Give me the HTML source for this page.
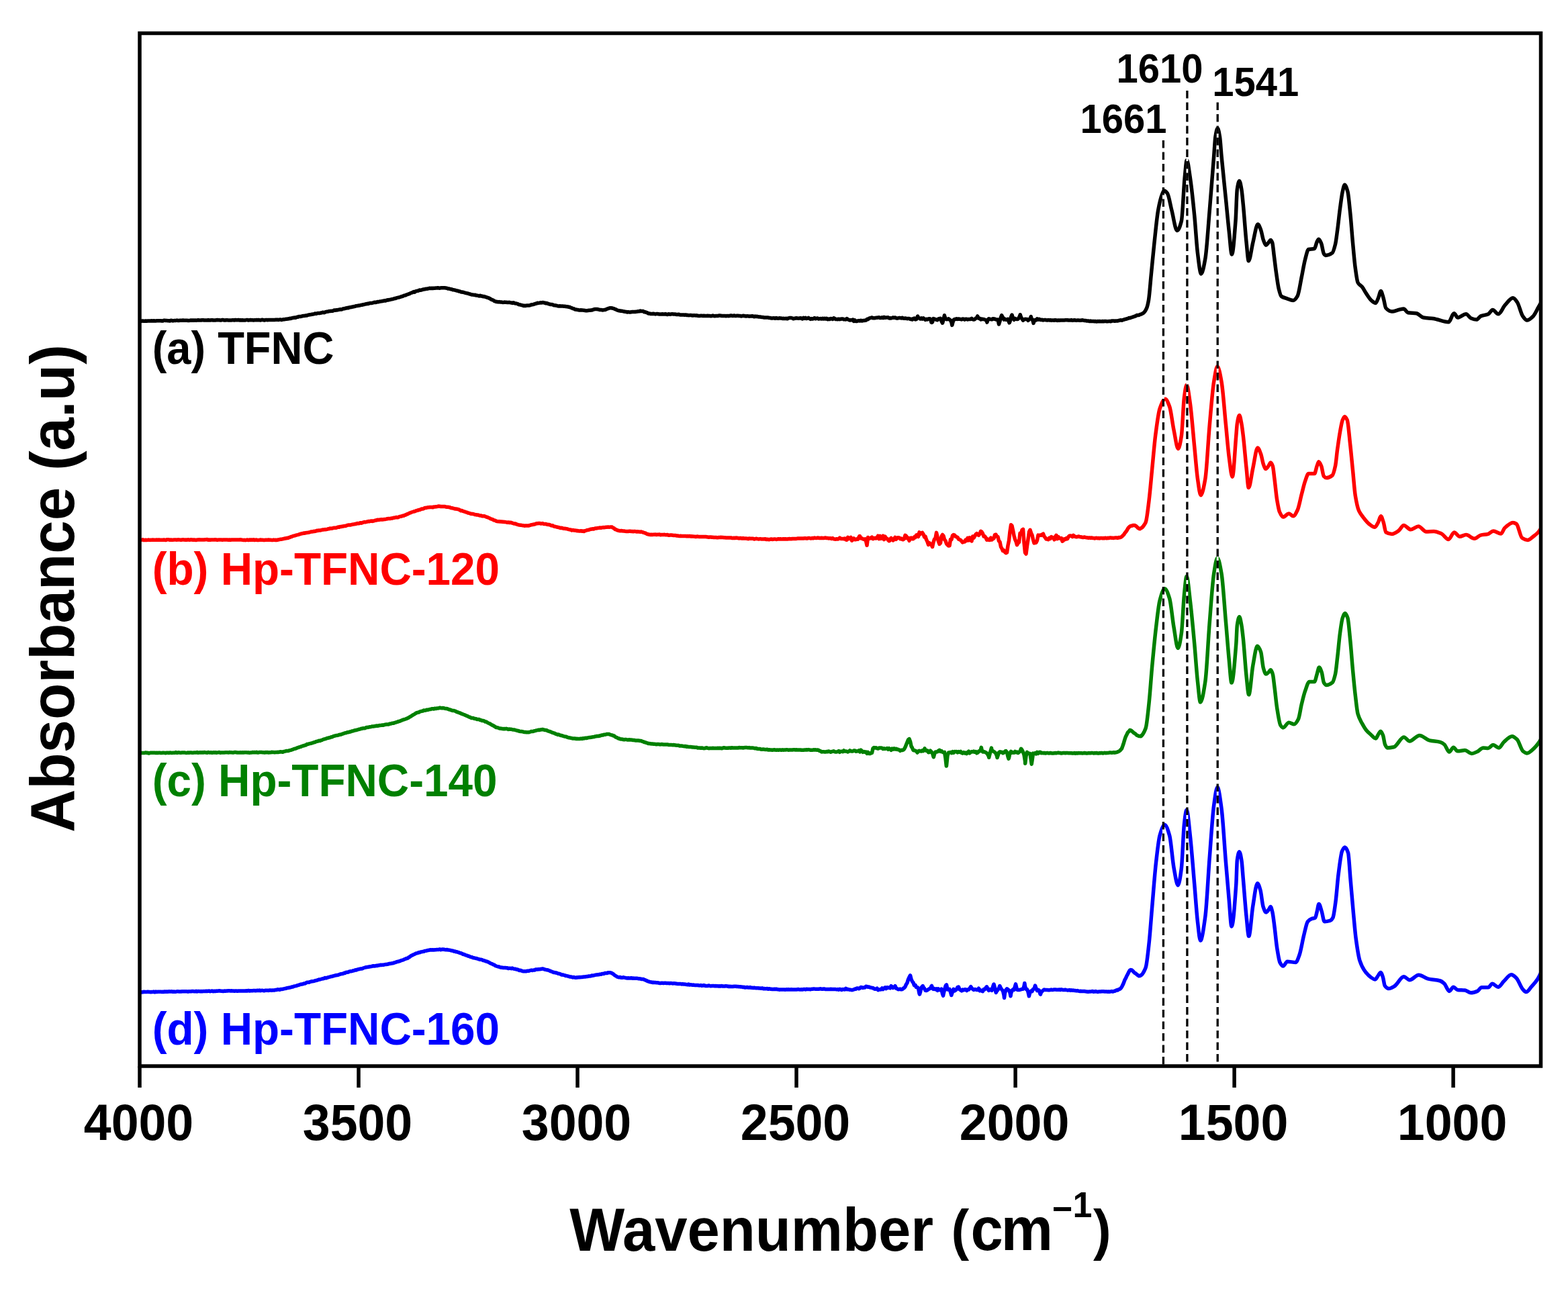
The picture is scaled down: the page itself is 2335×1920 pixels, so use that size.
<!DOCTYPE html>
<html><head><meta charset="utf-8"><title>FTIR spectra</title>
<style>html,body{margin:0;padding:0;background:#fff;}svg{display:block;}</style>
</head><body>
<svg width="2335" height="1920" viewBox="0 0 2335 1920">
<rect width="2335" height="1920" fill="#ffffff"/>
<defs><clipPath id="pc"><rect x="208" y="49.5" width="2086.5" height="1538.5"/></clipPath></defs>
<g clip-path="url(#pc)" fill="none" stroke-width="5.5" stroke-linejoin="round" stroke-linecap="round">
<path d="M208.0 478.3L209.5 478.3 211.0 478.2 212.5 477.9 214.0 478.3 215.5 478.2 217.0 478.0 218.5 478.2 220.0 478.1 221.5 478.1 223.0 478.0 224.5 478.1 226.0 477.8 227.5 477.9 229.0 477.8 230.5 478.0 232.0 477.9 233.5 477.8 235.0 477.7 236.5 477.8 238.0 477.8 239.5 477.7 241.0 478.0 242.5 477.9 244.0 477.2 245.5 477.3 247.0 477.6 248.5 477.6 250.0 477.7 251.5 477.7 253.0 478.0 254.5 477.3 256.0 477.5 257.5 477.9 259.0 477.6 260.5 477.6 262.0 477.4 263.5 477.1 265.0 477.5 266.5 477.4 268.0 477.2 269.5 477.2 271.0 477.3 272.5 477.1 274.0 477.3 275.5 477.3 277.0 477.3 278.5 477.2 280.0 477.4 281.5 477.4 283.0 477.3 284.5 477.0 286.0 477.3 287.5 477.0 289.0 477.3 290.5 476.9 292.0 477.3 293.5 477.1 295.0 476.8 296.5 477.0 298.0 477.0 299.5 477.1 301.0 476.8 302.5 476.7 304.0 477.0 305.5 476.9 307.0 477.0 308.5 477.1 310.0 476.6 311.5 477.0 313.0 477.1 314.5 476.8 316.0 476.7 317.5 477.0 319.0 476.9 320.5 477.1 322.0 476.8 323.5 476.6 325.0 476.8 326.5 476.8 328.0 477.0 329.5 476.9 331.0 476.5 332.5 476.6 334.0 477.0 335.5 477.0 337.0 476.7 338.5 476.8 340.0 476.9 341.5 476.9 343.0 477.0 344.5 476.9 346.0 476.8 347.5 476.8 349.0 477.0 350.5 476.4 352.0 476.8 353.5 476.8 355.0 476.5 356.5 476.9 358.0 476.7 359.5 477.0 361.0 476.8 362.5 476.9 364.0 477.0 365.5 476.9 367.0 476.6 368.5 476.5 370.0 477.1 371.5 476.7 373.0 476.6 374.5 476.8 376.0 476.7 377.5 476.9 379.0 476.7 380.5 476.7 382.0 476.6 383.5 476.8 385.0 476.5 386.5 476.8 388.0 477.0 389.5 476.4 391.0 476.2 392.5 476.8 394.0 477.1 395.5 476.4 397.0 476.4 398.5 476.7 400.0 476.4 401.5 476.5 403.0 476.5 404.5 476.6 406.0 476.4 407.5 476.5 409.0 476.4 410.5 476.3 412.0 476.3 413.5 476.2 415.0 476.4 416.5 476.1 418.0 476.1 419.5 476.5 421.0 476.0 422.5 475.8 424.0 475.7 425.5 475.3 427.0 475.2 428.5 475.1 430.0 474.8 431.5 474.3 433.0 474.4 434.5 473.9 436.0 473.5 437.5 473.3 439.0 473.1 440.5 473.2 442.0 472.3 443.5 472.3 445.0 471.5 446.5 471.6 448.0 471.5 449.5 471.0 451.0 470.6 452.5 470.5 454.0 470.3 455.5 470.0 457.0 469.9 458.5 469.3 460.0 468.9 461.5 468.7 463.0 468.5 464.5 468.2 466.0 467.9 467.5 467.7 469.0 467.1 470.5 467.3 472.0 466.8 473.5 466.4 475.0 466.5 476.5 466.4 478.0 466.0 479.5 465.7 481.0 465.2 482.5 465.7 484.0 465.1 485.5 464.4 487.0 464.2 488.5 464.1 490.0 463.5 491.5 463.6 493.0 463.2 494.5 463.3 496.0 463.0 497.5 462.0 499.0 462.3 500.5 461.7 502.0 461.9 503.5 461.5 505.0 461.3 506.5 460.7 508.0 460.9 509.5 460.7 511.0 459.8 512.5 459.8 514.0 459.3 515.5 459.1 517.0 458.5 518.5 458.8 520.0 458.0 521.5 457.8 523.0 457.6 524.5 457.1 526.0 456.9 527.5 456.5 529.0 456.2 530.5 455.7 532.0 455.6 533.5 455.3 535.0 455.0 536.5 454.7 538.0 454.3 539.5 454.2 541.0 453.7 542.5 453.5 544.0 453.0 545.5 452.8 547.0 452.3 548.5 452.4 550.0 451.8 551.5 451.6 553.0 451.5 554.5 451.2 556.0 450.8 557.5 450.2 559.0 450.5 560.5 450.2 562.0 449.6 563.5 449.8 565.0 449.2 566.5 448.9 568.0 448.8 569.5 448.5 571.0 448.3 572.5 447.7 574.0 448.1 575.5 447.3 577.0 446.8 578.5 446.9 580.0 446.4 581.5 446.2 583.0 445.8 584.5 445.5 586.0 445.1 587.5 444.6 589.0 444.5 590.5 443.8 592.0 443.4 593.5 443.1 595.0 442.8 596.5 442.2 598.0 441.6 599.5 441.5 601.0 440.5 602.5 440.1 604.0 439.8 605.5 438.9 607.0 438.6 608.5 437.9 610.0 437.5 611.5 436.5 613.0 436.0 614.5 435.6 616.0 434.5 617.5 435.1 619.0 433.8 620.5 433.4 622.0 433.3 623.5 432.8 625.0 432.0 626.5 432.2 628.0 431.9 629.5 431.3 631.0 431.0 632.5 430.8 634.0 430.3 635.5 430.3 637.0 430.0 638.5 429.6 640.0 429.3 641.5 429.4 643.0 429.2 644.5 429.5 646.0 429.2 647.5 429.3 649.0 429.1 650.5 429.1 652.0 428.8 653.5 429.0 655.0 429.2 656.5 428.8 658.0 428.7 659.5 428.8 661.0 428.7 662.5 428.8 664.0 429.1 665.5 429.3 667.0 429.9 668.5 429.9 670.0 430.3 671.5 430.8 673.0 431.0 674.5 431.7 676.0 431.8 677.5 432.2 679.0 432.7 680.5 433.1 682.0 433.3 683.5 433.9 685.0 434.0 686.5 434.9 688.0 435.0 689.5 435.3 691.0 435.6 692.5 436.1 694.0 436.5 695.5 436.8 697.0 437.2 698.5 437.7 700.0 438.0 701.5 438.6 703.0 439.0 704.5 439.1 706.0 439.4 707.5 439.3 709.0 440.0 710.5 440.1 712.0 440.4 713.5 440.9 715.0 440.3 716.5 441.1 718.0 441.1 719.5 441.7 721.0 441.6 722.5 442.1 724.0 442.6 725.5 443.2 727.0 443.7 728.5 444.2 730.0 445.0 731.5 446.0 733.0 446.7 734.5 447.1 736.0 448.3 737.5 448.8 739.0 449.4 740.5 449.5 742.0 449.9 743.5 449.6 745.0 450.0 746.5 449.9 748.0 450.2 749.5 450.4 751.0 450.1 752.5 450.3 754.0 450.3 755.5 450.6 757.0 450.6 758.5 450.3 760.0 450.7 761.5 450.9 763.0 451.4 764.5 450.8 766.0 451.4 767.5 452.1 769.0 452.0 770.5 452.5 772.0 453.3 773.5 453.8 775.0 453.9 776.5 454.6 778.0 454.8 779.5 455.4 781.0 455.2 782.5 455.5 784.0 455.1 785.5 455.1 787.0 454.9 788.5 454.9 790.0 454.5 791.5 453.8 793.0 453.7 794.5 453.4 796.0 452.8 797.5 452.3 799.0 452.0 800.5 451.3 802.0 451.4 803.5 451.1 805.0 450.7 806.5 451.0 808.0 450.5 809.5 450.8 811.0 451.0 812.5 451.8 814.0 451.4 815.5 452.2 817.0 452.7 818.5 453.0 820.0 453.6 821.5 453.6 823.0 453.8 824.5 454.8 826.0 454.7 827.5 455.1 829.0 455.2 830.5 455.8 832.0 455.9 833.5 455.7 835.0 456.1 836.5 456.0 838.0 456.1 839.5 456.2 841.0 456.3 842.5 456.6 844.0 456.7 845.5 456.8 847.0 457.3 848.5 457.5 850.0 458.2 851.5 458.8 853.0 459.6 854.5 459.8 856.0 460.9 857.5 461.0 859.0 461.3 860.5 461.5 862.0 461.9 863.5 461.9 865.0 461.8 866.5 461.9 868.0 462.1 869.5 462.2 871.0 462.6 872.5 462.7 874.0 462.7 875.5 462.6 877.0 462.3 878.5 462.2 880.0 462.0 881.5 461.9 883.0 461.3 884.5 460.8 886.0 460.6 887.5 460.5 889.0 460.5 890.5 460.8 892.0 461.1 893.5 461.6 895.0 461.4 896.5 461.8 898.0 462.0 899.5 461.5 901.0 461.5 902.5 460.9 904.0 460.1 905.5 459.6 907.0 459.1 908.5 458.7 910.0 458.7 911.5 458.9 913.0 459.4 914.5 459.8 916.0 460.6 917.5 461.0 919.0 462.0 920.5 462.5 922.0 462.7 923.5 463.0 925.0 463.3 926.5 463.3 928.0 463.7 929.5 464.0 931.0 464.3 932.5 464.4 934.0 465.0 935.5 464.6 937.0 464.9 938.5 465.0 940.0 464.8 941.5 464.6 943.0 464.4 944.5 464.6 946.0 464.6 947.5 464.2 949.0 464.0 950.5 463.7 952.0 463.8 953.5 463.1 955.0 463.5 956.5 463.6 958.0 463.6 959.5 464.8 961.0 464.7 962.5 465.4 964.0 465.9 965.5 466.9 967.0 466.9 968.5 467.4 970.0 467.5 971.5 467.6 973.0 467.3 974.5 467.5 976.0 468.0 977.5 467.5 979.0 467.6 980.5 467.8 982.0 468.0 983.5 467.9 985.0 468.0 986.5 467.7 988.0 468.1 989.5 468.0 991.0 467.6 992.5 468.2 994.0 468.4 995.5 467.8 997.0 468.0 998.5 468.3 1000.0 467.7 1001.5 467.7 1003.0 467.9 1004.5 468.1 1006.0 468.1 1007.5 468.5 1009.0 468.5 1010.5 468.2 1012.0 468.7 1013.5 469.0 1015.0 469.0 1016.5 469.0 1018.0 468.9 1019.5 469.2 1021.0 468.9 1022.5 469.4 1024.0 469.3 1025.5 469.7 1027.0 469.6 1028.5 469.4 1030.0 469.7 1031.5 470.0 1033.0 469.7 1034.5 469.8 1036.0 469.9 1037.5 469.8 1039.0 470.3 1040.5 470.5 1042.0 470.4 1043.5 470.3 1045.0 470.3 1046.5 470.4 1048.0 470.2 1049.5 470.5 1051.0 470.6 1052.5 470.6 1054.0 470.3 1055.5 470.4 1057.0 470.4 1058.5 470.8 1060.0 470.5 1061.5 470.1 1063.0 470.5 1064.5 470.8 1066.0 470.6 1067.5 470.6 1069.0 470.5 1070.5 470.1 1072.0 470.1 1073.5 470.2 1075.0 470.5 1076.5 470.6 1078.0 470.6 1079.5 470.4 1081.0 470.7 1082.5 470.5 1084.0 470.4 1085.5 470.7 1087.0 470.3 1088.5 470.0 1090.0 470.3 1091.5 470.6 1093.0 469.9 1094.5 470.5 1096.0 470.5 1097.5 470.3 1099.0 470.3 1100.5 470.5 1102.0 470.5 1103.5 470.9 1105.0 470.7 1106.5 470.3 1108.0 470.5 1109.5 470.8 1111.0 471.1 1112.5 470.8 1114.0 470.8 1115.5 471.2 1117.0 470.9 1118.5 470.9 1120.0 470.7 1121.5 471.0 1123.0 471.7 1124.5 471.1 1126.0 471.5 1127.5 471.3 1129.0 471.8 1130.5 472.1 1132.0 472.0 1133.5 472.3 1135.0 472.5 1136.5 472.6 1138.0 473.0 1139.5 473.0 1141.0 472.9 1142.5 473.0 1144.0 473.1 1145.5 473.5 1147.0 473.4 1148.5 474.1 1150.0 474.1 1151.5 473.8 1153.0 473.8 1154.5 474.3 1156.0 473.6 1157.5 474.0 1159.0 474.3 1160.5 473.7 1162.0 473.9 1163.5 474.0 1165.0 474.5 1166.5 474.3 1168.0 474.4 1169.5 474.5 1171.0 474.3 1172.5 474.8 1174.0 473.9 1175.5 473.6 1177.0 473.4 1178.5 473.5 1180.0 474.0 1181.5 474.8 1183.0 474.4 1184.5 474.0 1186.0 473.8 1187.5 474.1 1189.0 474.2 1190.5 474.1 1192.0 473.7 1193.5 474.2 1195.0 474.9 1196.5 473.3 1198.0 474.3 1199.5 473.4 1201.0 474.5 1202.5 474.1 1204.0 473.4 1205.5 474.5 1207.0 475.4 1208.5 474.6 1210.0 475.1 1211.5 474.5 1213.0 473.5 1214.5 474.8 1216.0 474.4 1217.5 473.9 1219.0 475.0 1220.5 474.8 1222.0 474.4 1223.5 475.1 1225.0 474.3 1226.5 475.1 1228.0 474.3 1229.5 475.1 1231.0 474.3 1232.5 475.6 1234.0 475.0 1235.5 475.6 1237.0 474.5 1238.5 474.7 1240.0 475.4 1241.5 473.7 1243.0 474.5 1244.5 475.6 1246.0 475.4 1247.5 475.7 1249.0 475.2 1250.5 475.7 1252.0 475.2 1253.5 475.0 1255.0 474.9 1256.5 475.7 1258.0 475.8 1259.5 475.9 1261.0 474.6 1262.5 475.6 1264.0 476.4 1265.5 477.0 1267.0 476.7 1268.5 476.7 1270.0 476.1 1271.5 478.4 1273.0 477.0 1274.5 478.5 1276.0 478.5 1277.5 477.9 1279.0 477.6 1280.5 478.0 1282.0 477.3 1283.5 478.0 1285.0 477.6 1286.5 477.5 1288.0 477.3 1289.5 477.2 1291.0 475.6 1292.5 475.7 1294.0 474.3 1295.5 473.7 1297.0 473.4 1298.5 472.9 1300.0 473.7 1301.5 473.7 1303.0 473.8 1304.5 473.2 1306.0 473.3 1307.5 472.9 1309.0 472.7 1310.5 473.5 1312.0 473.4 1313.5 472.7 1315.0 473.6 1316.5 472.4 1318.0 473.2 1319.5 473.0 1321.0 473.1 1322.5 472.8 1324.0 473.9 1325.5 473.7 1327.0 474.0 1328.5 473.5 1330.0 472.9 1331.5 473.3 1333.0 473.0 1334.5 473.8 1336.0 474.2 1337.5 473.8 1339.0 473.4 1340.5 473.6 1342.0 473.9 1343.5 473.2 1345.0 474.1 1346.5 474.3 1348.0 474.1 1349.5 474.3 1351.0 474.7 1352.5 474.4 1354.0 474.5 1355.5 475.4 1357.0 475.2 1358.5 476.0 1360.0 474.5 1361.5 474.0 1363.0 475.9 1364.5 475.5 1366.0 472.3 1366.6 471.0 1367.5 473.2 1369.0 474.0 1370.5 475.0 1372.0 473.8 1373.5 475.1 1375.0 473.8 1376.5 475.2 1378.0 476.4 1379.5 475.2 1381.0 475.9 1382.5 474.9 1384.0 474.7 1385.5 475.2 1387.0 480.2 1387.5 480.5 1388.5 479.6 1390.0 474.6 1391.5 475.3 1393.0 475.5 1394.5 476.4 1396.0 476.7 1397.5 475.0 1399.0 474.6 1400.5 474.2 1402.0 478.4 1403.5 481.2 1403.6 481.0 1405.0 476.3 1406.4 469.8 1406.5 470.5 1408.0 474.8 1409.5 475.7 1411.0 475.6 1412.5 474.8 1414.0 475.9 1415.5 477.1 1417.0 480.5 1417.8 484.4 1418.5 481.5 1420.0 476.5 1421.5 475.5 1423.0 475.4 1424.5 474.8 1426.0 475.4 1427.5 475.0 1429.0 475.3 1430.5 475.4 1432.0 475.9 1433.5 475.0 1435.0 475.2 1436.5 476.1 1438.0 475.2 1439.5 475.2 1441.0 475.9 1442.5 475.5 1444.0 475.4 1445.5 475.4 1447.0 474.4 1448.5 475.6 1450.0 476.1 1451.5 475.6 1453.0 474.1 1454.5 473.6 1455.7 470.9 1456.0 471.9 1457.5 474.3 1459.0 474.3 1460.5 476.0 1462.0 475.0 1463.5 475.6 1465.0 475.5 1466.5 476.0 1468.0 476.9 1469.5 478.2 1469.9 480.1 1471.0 476.3 1472.5 474.7 1474.0 475.5 1475.5 475.6 1477.0 475.9 1478.5 474.7 1480.0 475.2 1481.5 475.0 1483.0 475.9 1484.5 476.1 1486.0 476.1 1487.5 483.0 1487.9 481.5 1489.0 478.3 1490.5 472.5 1491.7 469.7 1492.0 470.3 1493.5 473.1 1495.0 476.1 1496.5 475.1 1498.0 476.2 1499.5 476.1 1501.0 475.3 1502.5 479.5 1503.0 480.8 1504.0 479.0 1505.5 472.5 1506.8 469.4 1507.0 469.1 1508.5 473.8 1510.0 476.3 1511.5 474.4 1513.0 475.2 1514.5 475.6 1516.0 475.3 1517.5 473.1 1519.0 469.7 1519.2 468.7 1520.5 472.6 1522.0 475.0 1523.5 477.2 1525.0 475.9 1526.5 475.3 1528.0 475.5 1529.5 475.4 1531.0 477.3 1532.5 476.0 1534.0 474.6 1535.3 471.5 1535.5 473.8 1537.0 475.2 1538.5 479.1 1539.0 481.4 1540.0 478.3 1541.5 476.6 1543.0 476.9 1544.5 474.9 1546.0 476.1 1547.5 475.2 1549.0 476.3 1550.5 476.6 1552.0 476.2 1553.5 476.9 1555.0 476.6 1556.5 476.5 1558.0 476.8 1559.5 477.0 1561.0 476.6 1562.5 476.9 1564.0 476.7 1565.5 477.2 1567.0 477.0 1568.5 476.9 1570.0 477.2 1571.5 476.7 1573.0 476.9 1574.5 477.4 1576.0 477.0 1577.5 477.3 1579.0 477.0 1580.5 476.9 1582.0 476.9 1583.5 477.0 1585.0 476.9 1586.5 476.8 1588.0 476.8 1589.5 476.7 1591.0 477.0 1592.5 477.1 1594.0 477.1 1595.5 476.6 1597.0 477.2 1598.5 477.0 1600.0 476.7 1601.5 477.0 1603.0 477.2 1604.5 477.1 1606.0 477.1 1607.5 477.2 1609.0 477.3 1610.5 477.1 1612.0 476.8 1613.5 477.2 1615.0 477.6 1616.5 477.5 1618.0 477.9 1619.5 478.1 1621.0 478.0 1622.5 478.6 1624.0 478.1 1625.5 478.6 1627.0 478.4 1628.5 478.5 1630.0 478.8 1631.5 478.6 1633.0 479.0 1634.5 478.6 1636.0 478.8 1637.5 478.6 1639.0 478.7 1640.5 478.7 1642.0 478.5 1643.5 478.8 1645.0 478.4 1646.5 478.4 1648.0 478.7 1649.5 478.7 1651.0 478.6 1652.5 478.4 1654.0 478.8 1655.5 478.0 1657.0 478.0 1658.5 477.9 1660.0 478.2 1661.5 478.0 1663.0 478.1 1664.5 477.9 1666.0 477.5 1667.5 477.1 1669.0 476.8 1670.5 477.2 1672.0 476.6 1673.5 476.2 1675.0 475.6 1676.5 475.3 1678.0 474.8 1679.5 474.5 1681.0 473.6 1682.5 473.7 1684.0 473.1 1685.5 472.7 1687.0 472.2 1688.5 471.7 1690.0 471.0 1691.5 470.7 1693.0 469.5 1694.5 469.4 1696.0 469.5 1697.5 468.5 1699.0 468.1 1700.0 467.7 1700.5 467.5 1701.0 467.2 1701.5 467.0 1702.0 466.7 1702.5 466.4 1702.9 466.1C1704.5 465.0 1706.0 462.5 1707.6 458.9C1708.6 456.7 1709.5 452.5 1710.5 447.0C1711.7 439.9 1713.0 422.1 1714.2 409.7C1715.8 393.6 1717.4 376.1 1719.0 361.3C1720.9 343.7 1722.8 323.3 1724.7 312.9C1726.6 302.7 1728.4 295.1 1730.3 290.3C1731.4 287.5 1732.4 283.9 1733.5 283.9C1735.1 283.9 1736.8 285.8 1738.4 287.9C1740.5 290.7 1742.7 304.7 1744.8 312.9C1747.5 323.3 1750.2 343.5 1752.9 343.5C1755.1 343.5 1757.2 337.6 1759.4 329.0C1761.0 322.7 1762.6 280.4 1764.2 264.5C1765.3 253.9 1766.3 238.5 1767.4 238.5C1769.0 238.5 1770.7 253.8 1772.3 264.5C1774.4 278.5 1776.6 299.3 1778.7 321.0C1780.3 337.2 1781.9 364.8 1783.5 377.4C1785.2 391.1 1787.0 408.0 1788.7 408.0C1790.7 408.0 1792.8 396.7 1794.8 385.5C1797.0 373.5 1799.1 338.6 1801.3 312.9C1803.4 287.6 1805.6 259.5 1807.7 232.3C1808.4 223.0 1809.2 208.6 1809.9 204.0C1811.0 197.1 1812.1 191.0 1813.2 191.0C1814.3 191.0 1815.4 197.4 1816.5 204.0C1817.3 209.0 1818.2 223.4 1819.0 232.3C1821.2 255.4 1823.3 275.1 1825.5 296.8C1827.1 312.8 1828.7 330.7 1830.3 345.2C1831.7 357.6 1833.0 379.0 1834.4 379.0C1836.3 379.0 1838.1 353.5 1840.0 329.0C1840.8 319.0 1841.5 287.7 1842.3 282.4C1843.4 274.8 1844.5 269.4 1845.6 269.4C1846.7 269.4 1847.8 276.2 1848.9 282.4C1849.7 286.9 1850.5 296.6 1851.3 304.8C1852.9 321.2 1854.5 345.9 1856.1 361.3C1857.2 371.9 1858.3 388.7 1859.4 388.7C1861.5 388.7 1863.7 369.8 1865.8 361.3C1868.2 351.6 1870.7 334.0 1873.1 334.0C1874.6 334.0 1876.1 338.5 1877.6 342.4C1878.9 345.7 1880.1 354.2 1881.4 357.6C1882.7 361.0 1883.9 365.2 1885.2 365.2C1886.5 365.2 1887.7 362.8 1889.0 361.4C1890.1 360.2 1891.1 357.6 1892.2 357.6C1893.0 357.6 1893.9 359.3 1894.7 361.4C1895.5 363.5 1896.4 373.9 1897.2 380.4C1898.3 388.7 1899.3 398.2 1900.4 405.7C1901.7 414.6 1902.9 424.6 1904.2 429.8C1905.5 435.0 1906.7 440.2 1908.0 441.2C1910.5 443.2 1913.1 443.5 1915.6 444.4C1919.0 445.6 1922.4 447.6 1925.8 447.6C1927.9 447.6 1930.0 444.7 1932.1 441.2C1934.2 437.7 1936.3 422.2 1938.4 412.1C1940.1 403.9 1941.8 393.0 1943.5 386.7C1945.2 380.4 1946.9 372.0 1948.6 371.5C1951.5 370.7 1954.5 371.2 1957.4 370.3C1958.7 369.9 1959.9 362.5 1961.2 360.1C1962.1 358.5 1962.9 356.3 1963.8 356.3C1965.1 356.3 1966.3 359.6 1967.6 362.6C1968.9 365.6 1970.1 376.0 1971.4 377.9C1972.2 379.2 1973.1 380.4 1973.9 380.4C1977.3 380.4 1980.7 379.1 1984.1 376.6C1985.6 375.5 1987.0 369.9 1988.5 363.9C1989.6 359.5 1990.6 350.3 1991.7 342.4C1993.0 333.0 1994.2 320.1 1995.5 310.7C1996.8 301.3 1998.0 290.8 1999.3 285.3C2000.3 280.8 2001.4 275.2 2002.4 275.2C2003.9 275.2 2005.4 279.9 2006.9 285.3C2008.2 289.9 2009.4 304.7 2010.7 317.0C2012.0 329.3 2013.2 347.7 2014.5 361.4C2015.8 375.1 2017.0 390.2 2018.3 399.4C2019.6 408.6 2020.8 418.7 2022.1 421.0C2024.2 424.8 2026.3 424.7 2028.4 427.3C2030.5 429.9 2032.6 434.3 2034.7 437.4C2037.2 441.1 2039.8 445.5 2042.3 447.6C2044.4 449.3 2046.6 451.4 2048.7 451.4C2050.0 451.4 2051.2 446.7 2052.5 443.8C2053.8 440.9 2055.0 433.6 2056.3 433.6C2057.6 433.6 2058.8 439.7 2060.1 443.8C2061.4 447.9 2062.6 457.6 2063.9 459.0C2066.9 462.3 2069.8 464.0 2072.8 464.0C2076.2 464.0 2079.5 462.3 2082.9 461.5C2085.4 460.9 2087.9 459.9 2090.4 459.9C2092.5 459.9 2094.6 465.4 2096.7 465.7C2100.9 466.4 2105.0 466.1 2109.2 466.7C2112.7 467.2 2116.1 472.4 2119.6 473.0C2124.5 473.9 2129.3 473.8 2134.2 474.5C2141.8 475.6 2149.5 479.7 2157.1 479.7C2159.9 479.7 2162.7 466.7 2165.5 466.7C2167.2 466.7 2169.0 473.0 2170.7 473.0C2174.9 473.0 2179.0 467.7 2183.2 467.7C2185.6 467.7 2188.1 473.0 2190.5 474.0C2193.3 475.1 2196.0 476.1 2198.8 476.1C2200.9 476.1 2203.0 471.8 2205.1 470.9C2208.9 469.2 2212.7 469.5 2216.5 467.7C2218.6 466.7 2220.7 461.5 2222.8 461.5C2225.6 461.5 2228.3 467.7 2231.1 467.7C2234.6 467.7 2238.0 457.9 2241.5 454.2C2245.3 450.1 2249.2 443.8 2253.0 443.8C2255.1 443.8 2257.2 447.1 2259.3 450.0C2262.1 453.8 2264.8 467.1 2267.6 470.9C2269.7 473.8 2271.8 477.1 2273.9 477.1C2277.0 477.1 2280.1 473.9 2283.2 470.9C2285.6 468.5 2288.1 462.6 2290.5 458.4C2292.7 454.6 2294.8 450.8 2297.0 447.0" stroke="#000000"/>
<path d="M208.0 804.3L209.5 804.2 211.0 804.2 212.5 803.8 214.0 804.6 215.5 804.5 217.0 804.2 218.5 804.4 220.0 804.3 221.5 804.1 223.0 804.4 224.5 804.2 226.0 804.2 227.5 804.1 229.0 804.3 230.5 804.2 232.0 804.3 233.5 804.1 235.0 804.2 236.5 804.0 238.0 804.3 239.5 804.2 241.0 804.2 242.5 804.2 244.0 804.0 245.5 804.3 247.0 804.6 248.5 803.8 250.0 803.8 251.5 803.8 253.0 804.3 254.5 804.1 256.0 804.3 257.5 804.2 259.0 804.1 260.5 804.1 262.0 804.0 263.5 804.2 265.0 803.8 266.5 804.0 268.0 804.1 269.5 804.4 271.0 803.9 272.5 803.8 274.0 803.9 275.5 804.2 277.0 804.0 278.5 804.3 280.0 803.7 281.5 804.2 283.0 804.2 284.5 803.7 286.0 804.0 287.5 804.3 289.0 804.0 290.5 804.2 292.0 804.5 293.5 804.1 295.0 803.9 296.5 803.8 298.0 804.1 299.5 804.0 301.0 804.0 302.5 804.0 304.0 804.1 305.5 803.8 307.0 803.7 308.5 803.5 310.0 804.2 311.5 804.0 313.0 804.3 314.5 804.0 316.0 803.9 317.5 804.1 319.0 804.0 320.5 803.8 322.0 803.9 323.5 804.4 325.0 804.1 326.5 804.1 328.0 804.0 329.5 803.9 331.0 804.2 332.5 804.0 334.0 803.9 335.5 804.0 337.0 803.9 338.5 804.1 340.0 804.3 341.5 803.9 343.0 804.4 344.5 804.0 346.0 804.1 347.5 804.0 349.0 804.1 350.5 804.1 352.0 804.1 353.5 804.0 355.0 804.0 356.5 804.0 358.0 803.8 359.5 804.1 361.0 804.3 362.5 804.4 364.0 804.3 365.5 804.7 367.0 804.3 368.5 804.1 370.0 804.6 371.5 804.0 373.0 804.4 374.5 804.0 376.0 804.3 377.5 803.8 379.0 804.4 380.5 804.2 382.0 804.1 383.5 804.6 385.0 804.4 386.5 804.3 388.0 804.1 389.5 804.3 391.0 804.2 392.5 804.4 394.0 804.4 395.5 804.2 397.0 804.2 398.5 804.2 400.0 804.0 401.5 804.2 403.0 804.3 404.5 804.4 406.0 804.6 407.5 804.1 409.0 804.4 410.5 804.2 412.0 804.6 413.5 804.1 415.0 804.0 416.5 803.5 418.0 803.3 419.5 803.2 421.0 802.8 422.5 802.6 424.0 801.9 425.5 802.0 427.0 801.4 428.5 801.5 430.0 800.7 431.5 800.5 433.0 799.5 434.5 799.4 436.0 798.6 437.5 798.2 439.0 797.8 440.5 797.3 442.0 796.9 443.5 796.6 445.0 796.2 446.5 795.7 448.0 795.1 449.5 794.8 451.0 794.6 452.5 793.9 454.0 794.2 455.5 793.7 457.0 793.4 458.5 793.3 460.0 793.0 461.5 792.6 463.0 792.1 464.5 792.1 466.0 791.8 467.5 791.3 469.0 791.4 470.5 791.0 472.0 790.3 473.5 790.4 475.0 789.9 476.5 790.1 478.0 789.8 479.5 789.2 481.0 789.0 482.5 788.9 484.0 788.6 485.5 788.7 487.0 788.3 488.5 787.8 490.0 787.8 491.5 787.0 493.0 787.2 494.5 787.1 496.0 786.6 497.5 786.2 499.0 786.2 500.5 786.2 502.0 785.6 503.5 785.1 505.0 785.3 506.5 784.4 508.0 784.6 509.5 784.1 511.0 784.1 512.5 783.4 514.0 783.6 515.5 783.1 517.0 782.4 518.5 782.1 520.0 782.1 521.5 782.1 523.0 781.6 524.5 781.3 526.0 780.9 527.5 780.8 529.0 780.5 530.5 780.2 532.0 779.6 533.5 779.8 535.0 779.5 536.5 778.7 538.0 779.2 539.5 778.6 541.0 778.0 542.5 777.5 544.0 777.7 545.5 777.4 547.0 777.0 548.5 776.5 550.0 776.8 551.5 776.2 553.0 776.0 554.5 776.4 556.0 776.0 557.5 775.6 559.0 775.1 560.5 775.1 562.0 774.3 563.5 774.6 565.0 774.2 566.5 773.9 568.0 773.7 569.5 773.9 571.0 773.7 572.5 773.5 574.0 773.5 575.5 773.0 577.0 772.7 578.5 772.4 580.0 772.4 581.5 772.4 583.0 772.0 584.5 771.9 586.0 771.3 587.5 771.2 589.0 770.8 590.5 770.5 592.0 770.8 593.5 770.3 595.0 769.6 596.5 769.2 598.0 769.0 599.5 768.3 601.0 768.3 602.5 767.4 604.0 767.0 605.5 766.2 607.0 765.7 608.5 764.9 610.0 764.1 611.5 763.6 613.0 763.0 614.5 762.5 616.0 762.0 617.5 761.7 619.0 761.1 620.5 760.4 622.0 760.2 623.5 759.4 625.0 759.4 626.5 758.8 628.0 758.0 629.5 758.0 631.0 757.6 632.5 756.5 634.0 756.6 635.5 756.3 637.0 755.7 638.5 755.7 640.0 755.5 641.5 755.6 643.0 755.4 644.5 755.7 646.0 754.9 647.5 755.1 649.0 754.7 650.5 754.7 652.0 754.3 653.5 754.0 655.0 754.2 656.5 754.5 658.0 754.6 659.5 754.5 661.0 754.6 662.5 754.4 664.0 755.1 665.5 755.3 667.0 755.2 668.5 755.6 670.0 755.8 671.5 756.6 673.0 756.8 674.5 757.0 676.0 757.5 677.5 757.9 679.0 758.0 680.5 758.2 682.0 758.6 683.5 759.0 685.0 759.9 686.5 760.8 688.0 760.5 689.5 761.4 691.0 761.9 692.5 762.2 694.0 762.9 695.5 763.2 697.0 764.1 698.5 764.2 700.0 764.8 701.5 765.3 703.0 765.4 704.5 765.5 706.0 766.0 707.5 766.6 709.0 766.7 710.5 767.0 712.0 767.0 713.5 767.6 715.0 768.0 716.5 768.1 718.0 768.8 719.5 768.7 721.0 768.8 722.5 769.1 724.0 770.0 725.5 770.3 727.0 771.0 728.5 771.5 730.0 772.4 731.5 773.1 733.0 773.4 734.5 774.3 736.0 775.1 737.5 775.2 739.0 776.2 740.5 776.5 742.0 776.7 743.5 776.7 745.0 777.0 746.5 776.9 748.0 777.3 749.5 777.3 751.0 777.6 752.5 777.6 754.0 777.9 755.5 778.2 757.0 777.9 758.5 778.5 760.0 778.2 761.5 778.5 763.0 779.2 764.5 779.6 766.0 780.1 767.5 780.0 769.0 780.8 770.5 781.2 772.0 781.8 773.5 781.9 775.0 782.3 776.5 782.3 778.0 782.7 779.5 782.8 781.0 783.2 782.5 782.9 784.0 782.9 785.5 783.0 787.0 783.1 788.5 782.5 790.0 782.2 791.5 781.7 793.0 781.6 794.5 781.1 796.0 781.0 797.5 780.4 799.0 779.8 800.5 779.7 802.0 779.5 803.5 779.4 805.0 779.9 806.5 779.9 808.0 779.6 809.5 780.4 811.0 780.4 812.5 780.4 814.0 781.0 815.5 781.2 817.0 781.5 818.5 781.6 820.0 782.5 821.5 782.9 823.0 782.8 824.5 783.9 826.0 784.3 827.5 784.5 829.0 785.0 830.5 785.3 832.0 785.6 833.5 786.0 835.0 786.6 836.5 786.3 838.0 786.9 839.5 787.2 841.0 787.3 842.5 787.6 844.0 787.7 845.5 788.1 847.0 788.6 848.5 788.9 850.0 788.9 851.5 790.0 853.0 789.5 854.5 789.9 856.0 790.0 857.5 790.2 859.0 790.7 860.5 790.5 862.0 791.0 863.5 791.1 865.0 790.7 866.5 791.2 868.0 790.9 869.5 791.5 871.0 790.7 872.5 790.3 874.0 789.7 875.5 789.4 877.0 789.2 878.5 788.7 880.0 788.2 881.5 788.0 883.0 787.8 884.5 787.9 886.0 787.0 887.5 787.1 889.0 786.8 890.5 786.4 892.0 786.3 893.5 786.1 895.0 786.2 896.5 785.9 898.0 785.6 899.5 785.7 901.0 785.5 902.5 785.3 904.0 785.3 905.5 784.9 907.0 785.2 908.5 785.1 910.0 784.9 911.5 785.1 913.0 786.3 914.5 786.9 916.0 788.5 917.5 788.7 919.0 789.8 920.5 790.1 922.0 790.5 923.5 790.7 925.0 790.6 926.5 790.8 928.0 791.0 929.5 791.1 931.0 791.3 932.5 791.4 934.0 791.5 935.5 791.4 937.0 791.3 938.5 791.2 940.0 791.4 941.5 791.5 943.0 791.8 944.5 791.6 946.0 791.5 947.5 792.0 949.0 791.8 950.5 791.9 952.0 792.1 953.5 792.4 955.0 792.0 956.5 792.5 958.0 793.2 959.5 793.6 961.0 794.1 962.5 794.8 964.0 795.7 965.5 795.8 967.0 796.3 968.5 796.5 970.0 796.2 971.5 796.4 973.0 796.2 974.5 796.2 976.0 796.1 977.5 796.5 979.0 796.2 980.5 796.2 982.0 796.1 983.5 796.7 985.0 796.5 986.5 796.4 988.0 796.4 989.5 796.3 991.0 796.7 992.5 796.8 994.0 796.5 995.5 797.2 997.0 797.2 998.5 796.9 1000.0 797.1 1001.5 797.3 1003.0 797.5 1004.5 797.6 1006.0 797.4 1007.5 798.1 1009.0 798.0 1010.5 798.3 1012.0 798.4 1013.5 798.2 1015.0 798.4 1016.5 798.5 1018.0 798.6 1019.5 798.5 1021.0 798.5 1022.5 798.7 1024.0 798.6 1025.5 798.7 1027.0 798.5 1028.5 798.9 1030.0 798.8 1031.5 798.9 1033.0 799.1 1034.5 799.2 1036.0 799.6 1037.5 799.3 1039.0 799.1 1040.5 799.4 1042.0 799.4 1043.5 799.6 1045.0 799.5 1046.5 799.5 1048.0 799.6 1049.5 799.6 1051.0 799.5 1052.5 799.7 1054.0 799.9 1055.5 800.2 1057.0 800.0 1058.5 800.0 1060.0 800.3 1061.5 800.3 1063.0 800.6 1064.5 800.4 1066.0 800.4 1067.5 800.7 1069.0 800.8 1070.5 800.4 1072.0 800.6 1073.5 800.3 1075.0 800.6 1076.5 800.6 1078.0 800.7 1079.5 800.7 1081.0 800.9 1082.5 800.9 1084.0 801.1 1085.5 801.1 1087.0 801.0 1088.5 800.9 1090.0 801.5 1091.5 801.5 1093.0 801.2 1094.5 801.5 1096.0 801.1 1097.5 801.2 1099.0 801.5 1100.5 801.9 1102.0 801.5 1103.5 801.6 1105.0 802.1 1106.5 801.5 1108.0 802.1 1109.5 802.1 1111.0 802.0 1112.5 802.2 1114.0 802.7 1115.5 802.0 1117.0 802.3 1118.5 802.3 1120.0 802.3 1121.5 802.3 1123.0 802.9 1124.5 802.7 1126.0 802.3 1127.5 802.6 1129.0 802.9 1130.5 802.9 1132.0 802.6 1133.5 802.9 1135.0 803.0 1136.5 803.1 1138.0 803.1 1139.5 802.7 1141.0 803.5 1142.5 803.2 1144.0 803.5 1145.5 803.8 1147.0 803.2 1148.5 803.0 1150.0 803.4 1151.5 803.2 1153.0 803.1 1154.5 803.0 1156.0 803.5 1157.5 803.1 1159.0 802.8 1160.5 803.0 1162.0 802.8 1163.5 803.1 1165.0 802.9 1166.5 802.7 1168.0 803.0 1169.5 802.7 1171.0 803.0 1172.5 803.0 1174.0 802.7 1175.5 802.6 1177.0 802.7 1178.5 802.8 1180.0 802.5 1181.5 802.5 1183.0 802.4 1184.5 802.4 1186.0 802.4 1187.5 802.1 1189.0 802.1 1190.5 802.1 1192.0 801.9 1193.5 802.0 1195.0 802.1 1196.5 801.9 1198.0 801.7 1199.5 801.7 1201.0 802.1 1202.5 801.9 1204.0 801.4 1205.5 801.5 1207.0 802.0 1208.5 801.8 1210.0 801.5 1211.5 801.7 1213.0 801.1 1214.5 801.4 1216.0 801.5 1217.5 801.0 1219.0 801.2 1220.5 801.5 1222.0 801.5 1223.5 801.2 1225.0 801.4 1226.5 801.6 1228.0 801.3 1229.5 801.1 1231.0 801.5 1232.5 801.5 1234.0 801.9 1235.5 801.8 1237.0 801.7 1238.5 802.5 1240.0 801.6 1241.5 802.7 1243.0 803.0 1244.5 803.2 1246.0 802.7 1247.5 803.1 1249.0 802.5 1250.5 801.2 1252.0 802.4 1253.5 802.4 1255.0 802.4 1256.5 802.7 1258.0 802.0 1259.5 803.9 1261.0 804.2 1262.5 800.4 1264.0 802.6 1265.5 801.9 1267.0 800.5 1268.5 805.3 1269.0 804.9 1270.0 803.9 1271.5 801.9 1273.0 803.7 1274.5 803.8 1276.0 802.8 1277.5 803.3 1279.0 800.1 1280.0 798.6 1280.5 798.6 1282.0 801.9 1283.5 801.8 1285.0 802.9 1286.5 803.4 1288.0 802.9 1289.5 805.6 1291.0 812.3 1292.5 800.6 1294.0 802.5 1295.5 801.5 1297.0 801.7 1298.5 800.1 1300.0 802.6 1301.5 802.0 1303.0 801.3 1304.5 802.0 1306.0 801.4 1307.5 798.2 1309.0 802.6 1310.0 799.0 1310.5 798.4 1312.0 802.3 1313.5 801.0 1315.0 798.2 1316.5 803.7 1318.0 799.0 1319.5 801.6 1321.0 802.2 1322.5 804.3 1324.0 805.8 1325.0 805.3 1325.5 802.9 1327.0 801.5 1328.5 803.6 1330.0 804.9 1331.5 802.6 1333.0 800.4 1334.5 803.4 1336.0 800.9 1337.5 800.8 1339.0 801.0 1340.5 802.6 1342.0 802.0 1343.5 803.3 1345.0 803.8 1346.5 802.4 1348.0 797.3 1349.5 798.4 1351.0 801.8 1352.5 801.4 1354.0 805.4 1355.5 801.4 1357.0 801.1 1358.5 802.8 1360.0 802.7 1361.5 799.9 1363.0 800.6 1364.5 797.2 1366.0 796.7 1367.5 799.3 1369.0 792.9 1370.5 795.5 1372.0 793.8 1373.5 793.4 1375.0 795.7 1376.5 799.9 1378.0 799.1 1379.5 803.8 1381.0 806.9 1382.5 811.3 1384.0 808.6 1385.5 810.1 1387.0 811.3 1388.5 814.6 1390.0 807.7 1391.5 803.2 1393.0 801.7 1394.5 793.4 1396.0 799.9 1397.5 806.6 1399.0 810.4 1400.5 808.8 1402.0 799.2 1403.5 796.5 1405.0 798.3 1406.5 803.8 1408.0 805.5 1409.5 809.9 1411.0 811.6 1412.5 813.1 1414.0 812.8 1415.5 803.5 1417.0 803.7 1418.5 797.6 1420.0 796.5 1421.5 797.0 1423.0 799.1 1424.5 799.7 1426.0 800.4 1427.5 803.2 1429.0 803.7 1430.5 804.4 1432.0 806.1 1433.5 808.0 1435.0 807.1 1436.5 807.1 1438.0 804.1 1439.5 805.4 1441.0 801.4 1442.5 805.0 1444.0 800.9 1445.5 803.8 1447.0 805.9 1448.5 799.0 1450.0 801.3 1451.5 798.7 1453.0 796.1 1454.5 794.7 1456.0 796.5 1457.5 797.3 1459.0 795.0 1460.5 791.4 1462.0 792.4 1463.5 794.8 1465.0 799.0 1466.5 798.8 1468.0 800.8 1469.5 804.2 1471.0 803.1 1472.5 804.3 1474.0 804.5 1475.5 801.1 1477.0 804.0 1478.5 802.5 1480.0 801.9 1481.5 796.6 1483.0 796.2 1484.5 799.0 1486.0 799.6 1487.5 805.8 1489.0 807.3 1490.5 814.7 1492.0 817.2 1493.5 820.5 1495.0 819.8 1496.5 822.3 1498.0 823.6 1499.5 823.0 1501.0 812.5 1502.5 805.2 1504.0 791.6 1505.5 781.8 1507.0 783.3 1508.5 790.0 1510.0 798.1 1511.5 803.3 1513.0 806.5 1514.5 811.7 1516.0 808.9 1517.5 807.6 1519.0 794.3 1520.5 795.0 1522.0 789.5 1523.5 788.3 1525.0 808.3 1526.5 823.0 1528.0 825.0 1529.5 813.2 1531.0 803.3 1532.5 792.3 1534.0 789.3 1535.5 793.9 1537.0 797.1 1538.5 803.8 1540.0 808.9 1541.5 808.5 1543.0 808.2 1544.5 804.8 1546.0 797.1 1547.5 797.7 1549.0 797.1 1550.5 797.4 1552.0 796.1 1553.5 795.2 1555.0 799.0 1556.5 800.7 1558.0 803.1 1559.5 803.0 1561.0 803.6 1562.5 801.4 1564.0 802.4 1565.5 799.5 1567.0 800.6 1568.5 800.8 1570.0 803.8 1571.5 799.6 1573.0 797.3 1574.5 802.7 1576.0 799.5 1577.5 801.7 1579.0 802.0 1580.5 801.6 1582.0 806.1 1583.5 805.1 1585.0 802.8 1586.5 803.5 1588.0 801.7 1589.5 802.6 1591.0 799.8 1592.5 798.3 1594.0 798.0 1595.5 798.2 1597.0 799.5 1598.5 797.4 1600.0 799.0 1601.5 799.3 1603.0 799.8 1604.5 799.6 1606.0 798.9 1607.5 799.5 1609.0 799.7 1610.5 800.0 1612.0 800.4 1613.5 800.4 1615.0 799.9 1616.5 800.6 1618.0 800.7 1619.5 800.9 1621.0 801.2 1622.5 800.9 1624.0 801.4 1625.5 801.0 1627.0 801.4 1628.5 801.5 1630.0 802.0 1631.5 801.4 1633.0 801.3 1634.5 801.7 1636.0 801.5 1637.5 801.9 1639.0 801.4 1640.5 801.4 1642.0 801.8 1643.5 801.6 1645.0 801.7 1646.5 801.2 1648.0 801.8 1649.5 801.3 1651.0 801.5 1652.5 801.1 1654.0 801.0 1655.5 801.2 1657.0 801.2 1658.5 801.4 1660.0 801.1 1661.5 801.1 1663.0 801.0 1664.5 801.4 1666.0 800.5 1667.5 800.8 1669.0 800.2 1670.5 799.4 1672.0 797.8 1673.5 796.4 1675.0 794.1 1676.5 792.2 1678.0 790.3 1679.5 787.4 1681.0 785.5 1682.5 784.2 1684.0 783.3 1685.5 783.2 1687.0 782.6 1688.5 782.5 1690.0 782.4 1691.5 783.5 1693.0 784.7 1694.5 786.3 1696.0 787.4 1697.5 787.8 1699.0 786.7 1700.0 786.3 1700.5 785.9 1701.0 785.5 1701.5 785.0 1702.0 784.4 1702.5 783.8 1703.0 783.1 1703.5 782.4 1704.0 781.7 1704.5 780.9 1705.0 780.1 1705.5 779.2 1706.0 778.3 1706.1 778.1C1707.7 775.0 1709.4 758.8 1711.0 745.8C1712.6 733.0 1714.2 713.5 1715.8 697.4C1717.4 681.3 1719.0 661.4 1720.6 649.0C1722.8 632.2 1724.9 614.8 1727.1 608.7C1729.8 601.0 1732.5 594.2 1735.2 594.2C1737.3 594.2 1739.5 599.8 1741.6 605.5C1743.8 611.3 1745.9 630.6 1748.1 641.0C1750.2 651.2 1752.4 668.4 1754.5 668.4C1756.1 668.4 1757.8 659.3 1759.4 649.0C1760.7 640.6 1762.1 602.7 1763.4 592.6C1764.6 583.2 1765.9 573.2 1767.1 573.2C1768.8 573.2 1770.6 588.7 1772.3 600.6C1774.4 615.2 1776.6 643.7 1778.7 665.2C1780.3 681.3 1781.9 702.5 1783.5 713.5C1785.0 724.1 1786.6 737.7 1788.1 737.7C1790.3 737.7 1792.6 726.0 1794.8 713.5C1797.0 701.3 1799.1 657.0 1801.3 632.9C1803.4 609.2 1805.6 581.2 1807.7 568.4C1809.4 558.0 1811.2 545.8 1812.9 545.8C1814.9 545.8 1817.0 557.5 1819.0 568.4C1821.2 580.0 1823.3 611.2 1825.5 632.9C1827.1 648.9 1828.7 669.4 1830.3 681.3C1831.9 693.5 1833.6 710.3 1835.2 710.3C1837.1 710.3 1838.9 670.3 1840.8 649.0C1841.3 643.3 1841.8 634.5 1842.3 631.4C1843.4 624.5 1844.5 618.4 1845.6 618.4C1846.7 618.4 1847.8 625.7 1848.9 631.4C1849.7 635.6 1850.5 642.3 1851.3 649.0C1852.9 662.4 1854.5 682.4 1856.1 697.4C1857.2 707.7 1858.3 726.5 1859.4 726.5C1861.5 726.5 1863.7 706.9 1865.8 697.4C1868.1 687.0 1870.5 667.0 1872.8 667.0C1874.4 667.0 1876.0 672.1 1877.6 676.3C1878.9 679.7 1880.1 687.9 1881.4 691.5C1882.5 694.5 1883.5 698.5 1884.6 698.5C1886.1 698.5 1887.5 695.9 1889.0 694.1C1890.1 692.8 1891.1 689.0 1892.2 689.0C1893.2 689.0 1894.3 691.3 1895.3 694.1C1896.2 696.5 1897.0 706.4 1897.9 713.1C1899.2 722.9 1900.4 737.1 1901.7 744.7C1903.0 752.3 1904.2 759.6 1905.5 762.5C1907.2 766.4 1908.9 770.1 1910.6 770.1C1913.5 770.1 1916.5 765.0 1919.4 765.0C1921.5 765.0 1923.7 768.8 1925.8 768.8C1927.9 768.8 1930.0 764.3 1932.1 760.0C1934.2 755.7 1936.3 743.8 1938.4 735.9C1940.1 729.5 1941.8 721.6 1943.5 716.9C1945.2 712.1 1946.9 705.5 1948.6 705.5C1951.5 705.5 1954.5 705.5 1957.4 705.5C1958.7 705.5 1959.9 697.5 1961.2 694.1C1962.1 691.8 1962.9 687.7 1963.8 687.7C1965.1 687.7 1966.3 691.1 1967.6 694.1C1968.9 697.1 1970.1 707.9 1971.4 709.3C1972.7 710.7 1973.9 711.8 1975.2 711.8C1978.2 711.8 1981.1 710.4 1984.1 708.0C1985.6 706.8 1987.0 700.9 1988.5 694.1C1989.6 689.2 1990.6 676.4 1991.7 668.7C1993.0 659.5 1994.2 650.4 1995.5 643.4C1996.8 636.4 1998.0 628.6 1999.3 625.6C2000.3 623.2 2001.4 620.6 2002.4 620.6C2003.7 620.6 2004.9 622.8 2006.2 625.6C2007.7 628.9 2009.2 648.9 2010.7 662.4C2012.0 673.8 2013.2 687.7 2014.5 700.4C2015.8 713.1 2017.0 730.6 2018.3 738.4C2020.0 748.6 2021.6 756.1 2023.3 760.0C2025.4 765.0 2027.6 767.2 2029.7 770.1C2032.6 774.0 2035.6 778.0 2038.5 780.2C2041.5 782.5 2044.4 785.3 2047.4 785.3C2049.1 785.3 2050.8 780.8 2052.5 777.7C2053.8 775.4 2055.0 768.8 2056.3 768.8C2057.6 768.8 2058.8 774.0 2060.1 777.7C2061.4 781.4 2062.6 792.1 2063.9 792.9C2066.9 794.7 2069.8 795.4 2072.8 795.4C2076.2 795.4 2079.5 792.7 2082.9 790.4C2085.4 788.7 2087.9 782.5 2090.4 782.5C2093.9 782.5 2097.3 788.8 2100.8 788.8C2104.6 788.8 2108.5 784.1 2112.3 784.1C2116.1 784.1 2120.0 791.9 2123.8 791.9C2127.6 791.9 2131.4 791.4 2135.2 791.4C2139.0 791.4 2142.9 793.3 2146.7 795.0C2150.2 796.6 2153.6 803.4 2157.1 803.4C2159.9 803.4 2162.7 793.0 2165.5 793.0C2168.3 793.0 2171.0 799.2 2173.8 799.2C2176.9 799.2 2180.1 796.6 2183.2 796.6C2187.4 796.6 2191.5 802.3 2195.7 802.3C2198.8 802.3 2202.0 797.8 2205.1 797.1C2208.6 796.3 2212.0 796.4 2215.5 795.6C2218.3 794.9 2221.0 790.9 2223.8 790.9C2227.6 790.9 2231.5 795.0 2235.3 795.0C2237.0 795.0 2238.8 788.4 2240.5 786.7C2244.7 782.6 2248.8 778.4 2253.0 778.4C2254.7 778.4 2256.5 779.3 2258.2 780.4C2261.0 782.2 2263.8 799.5 2266.6 801.3C2269.4 803.1 2272.1 804.4 2274.9 804.4C2277.7 804.4 2280.4 801.2 2283.2 799.2C2285.6 797.4 2288.1 795.6 2290.5 793.0C2292.7 790.7 2294.8 787.0 2297.0 784.0" stroke="#ff0000"/>
<path d="M208.0 1121.9L209.5 1121.0 211.0 1121.6 212.5 1121.4 214.0 1121.4 215.5 1121.4 217.0 1121.0 218.5 1121.4 220.0 1121.3 221.5 1122.1 223.0 1121.5 224.5 1121.3 226.0 1121.3 227.5 1121.3 229.0 1121.2 230.5 1121.3 232.0 1121.5 233.5 1121.3 235.0 1121.5 236.5 1121.3 238.0 1121.3 239.5 1121.6 241.0 1121.4 242.5 1121.2 244.0 1121.3 245.5 1121.4 247.0 1121.7 248.5 1121.2 250.0 1121.2 251.5 1121.5 253.0 1121.1 254.5 1121.2 256.0 1121.4 257.5 1121.3 259.0 1121.2 260.5 1121.3 262.0 1120.6 263.5 1121.4 265.0 1121.0 266.5 1120.8 268.0 1121.2 269.5 1121.3 271.0 1121.1 272.5 1120.9 274.0 1121.1 275.5 1121.1 277.0 1121.4 278.5 1121.3 280.0 1121.1 281.5 1121.3 283.0 1121.0 284.5 1120.9 286.0 1121.2 287.5 1121.2 289.0 1121.0 290.5 1120.9 292.0 1121.1 293.5 1120.5 295.0 1121.2 296.5 1121.1 298.0 1120.7 299.5 1121.0 301.0 1120.8 302.5 1121.1 304.0 1120.6 305.5 1120.8 307.0 1121.1 308.5 1121.2 310.0 1120.5 311.5 1120.9 313.0 1121.0 314.5 1120.8 316.0 1121.3 317.5 1120.7 319.0 1121.0 320.5 1120.7 322.0 1121.2 323.5 1120.9 325.0 1120.8 326.5 1120.6 328.0 1121.2 329.5 1121.0 331.0 1121.0 332.5 1121.1 334.0 1121.0 335.5 1120.8 337.0 1120.7 338.5 1120.7 340.0 1121.1 341.5 1120.6 343.0 1120.7 344.5 1120.8 346.0 1120.9 347.5 1121.0 349.0 1120.6 350.5 1120.5 352.0 1120.8 353.5 1121.1 355.0 1121.0 356.5 1120.9 358.0 1120.8 359.5 1120.9 361.0 1120.8 362.5 1121.0 364.0 1120.7 365.5 1120.8 367.0 1120.8 368.5 1120.9 370.0 1120.8 371.5 1121.3 373.0 1121.1 374.5 1121.1 376.0 1120.4 377.5 1120.7 379.0 1120.6 380.5 1120.8 382.0 1120.3 383.5 1121.0 385.0 1120.9 386.5 1120.4 388.0 1120.5 389.5 1120.5 391.0 1120.7 392.5 1120.8 394.0 1121.1 395.5 1120.6 397.0 1120.8 398.5 1120.6 400.0 1121.0 401.5 1120.7 403.0 1120.8 404.5 1120.3 406.0 1120.5 407.5 1120.4 409.0 1120.8 410.5 1120.6 412.0 1120.4 413.5 1120.3 415.0 1120.4 416.5 1120.0 418.0 1119.8 419.5 1119.9 421.0 1120.2 422.5 1119.5 424.0 1119.2 425.5 1118.8 427.0 1118.5 428.5 1118.5 430.0 1118.2 431.5 1117.7 433.0 1117.3 434.5 1116.8 436.0 1116.4 437.5 1115.6 439.0 1115.3 440.5 1114.9 442.0 1114.2 443.5 1113.7 445.0 1113.1 446.5 1112.6 448.0 1112.3 449.5 1111.5 451.0 1111.0 452.5 1110.7 454.0 1110.1 455.5 1109.8 457.0 1108.5 458.5 1108.6 460.0 1107.9 461.5 1107.6 463.0 1107.3 464.5 1106.8 466.0 1106.4 467.5 1105.7 469.0 1105.6 470.5 1104.7 472.0 1104.3 473.5 1104.0 475.0 1103.3 476.5 1103.4 478.0 1102.7 479.5 1102.4 481.0 1101.5 482.5 1101.0 484.0 1100.7 485.5 1100.3 487.0 1099.6 488.5 1099.3 490.0 1098.8 491.5 1098.7 493.0 1097.8 494.5 1097.7 496.0 1096.9 497.5 1096.4 499.0 1096.0 500.5 1095.5 502.0 1095.4 503.5 1095.1 505.0 1094.5 506.5 1094.2 508.0 1094.0 509.5 1093.3 511.0 1092.9 512.5 1092.3 514.0 1091.7 515.5 1091.7 517.0 1090.8 518.5 1090.8 520.0 1090.3 521.5 1090.1 523.0 1089.5 524.5 1088.9 526.0 1088.7 527.5 1088.1 529.0 1087.8 530.5 1087.5 532.0 1087.1 533.5 1086.7 535.0 1086.2 536.5 1085.9 538.0 1085.2 539.5 1085.2 541.0 1084.7 542.5 1084.8 544.0 1084.5 545.5 1083.5 547.0 1083.6 548.5 1083.3 550.0 1082.8 551.5 1082.8 553.0 1082.4 554.5 1081.9 556.0 1081.9 557.5 1081.7 559.0 1081.6 560.5 1081.1 562.0 1081.3 563.5 1081.1 565.0 1080.5 566.5 1080.4 568.0 1080.3 569.5 1080.0 571.0 1080.2 572.5 1079.7 574.0 1079.2 575.5 1079.0 577.0 1078.9 578.5 1079.1 580.0 1078.3 581.5 1078.0 583.0 1077.7 584.5 1077.2 586.0 1077.3 587.5 1076.4 589.0 1076.2 590.5 1075.6 592.0 1075.3 593.5 1074.4 595.0 1074.5 596.5 1073.6 598.0 1073.1 599.5 1072.4 601.0 1071.9 602.5 1071.5 604.0 1071.0 605.5 1070.4 607.0 1069.8 608.5 1069.0 610.0 1068.0 611.5 1067.3 613.0 1066.3 614.5 1065.2 616.0 1064.4 617.5 1063.6 619.0 1062.5 620.5 1061.7 622.0 1061.3 623.5 1061.1 625.0 1060.1 626.5 1059.7 628.0 1059.3 629.5 1059.1 631.0 1058.1 632.5 1058.2 634.0 1058.0 635.5 1057.3 637.0 1057.4 638.5 1057.0 640.0 1056.5 641.5 1056.4 643.0 1055.8 644.5 1055.7 646.0 1056.0 647.5 1055.2 649.0 1055.6 650.5 1055.0 652.0 1055.0 653.5 1054.7 655.0 1054.2 656.5 1054.5 658.0 1054.7 659.5 1054.5 661.0 1054.7 662.5 1055.3 664.0 1055.4 665.5 1055.5 667.0 1056.1 668.5 1056.8 670.0 1057.0 671.5 1057.7 673.0 1058.2 674.5 1058.4 676.0 1058.5 677.5 1059.0 679.0 1059.7 680.5 1060.5 682.0 1060.9 683.5 1061.6 685.0 1062.0 686.5 1062.8 688.0 1063.3 689.5 1064.0 691.0 1064.5 692.5 1065.1 694.0 1065.9 695.5 1066.4 697.0 1067.1 698.5 1068.0 700.0 1068.3 701.5 1069.4 703.0 1069.5 704.5 1069.6 706.0 1070.3 707.5 1070.6 709.0 1070.8 710.5 1071.5 712.0 1071.5 713.5 1071.4 715.0 1072.6 716.5 1072.7 718.0 1073.5 719.5 1073.5 721.0 1073.9 722.5 1075.0 724.0 1075.0 725.5 1076.0 727.0 1077.0 728.5 1077.5 730.0 1078.3 731.5 1079.2 733.0 1080.2 734.5 1080.7 736.0 1081.8 737.5 1082.6 739.0 1083.6 740.5 1083.7 742.0 1084.1 743.5 1084.9 745.0 1084.9 746.5 1085.3 748.0 1085.4 749.5 1085.7 751.0 1085.5 752.5 1085.7 754.0 1085.3 755.5 1085.8 757.0 1086.4 758.5 1086.0 760.0 1086.2 761.5 1086.2 763.0 1086.8 764.5 1086.9 766.0 1086.9 767.5 1087.6 769.0 1087.9 770.5 1088.4 772.0 1088.4 773.5 1089.3 775.0 1089.4 776.5 1089.6 778.0 1089.8 779.5 1090.1 781.0 1090.6 782.5 1090.5 784.0 1090.8 785.5 1090.7 787.0 1090.8 788.5 1090.5 790.0 1090.0 791.5 1089.4 793.0 1089.5 794.5 1089.2 796.0 1088.7 797.5 1088.4 799.0 1087.9 800.5 1087.6 802.0 1087.2 803.5 1087.4 805.0 1086.9 806.5 1086.7 808.0 1086.5 809.5 1086.9 811.0 1087.4 812.5 1087.5 814.0 1087.7 815.5 1088.6 817.0 1089.1 818.5 1089.5 820.0 1090.1 821.5 1090.8 823.0 1091.3 824.5 1091.9 826.0 1092.2 827.5 1093.3 829.0 1093.5 830.5 1094.4 832.0 1094.0 833.5 1094.9 835.0 1095.4 836.5 1095.6 838.0 1096.1 839.5 1096.6 841.0 1097.0 842.5 1097.2 844.0 1097.7 845.5 1098.4 847.0 1098.8 848.5 1098.9 850.0 1099.3 851.5 1099.6 853.0 1100.0 854.5 1099.9 856.0 1100.0 857.5 1100.4 859.0 1100.3 860.5 1100.4 862.0 1100.5 863.5 1100.5 865.0 1100.1 866.5 1100.4 868.0 1099.7 869.5 1100.0 871.0 1099.4 872.5 1099.2 874.0 1099.4 875.5 1098.9 877.0 1098.6 878.5 1098.4 880.0 1098.3 881.5 1097.9 883.0 1097.7 884.5 1097.6 886.0 1097.0 887.5 1096.8 889.0 1096.5 890.5 1096.6 892.0 1096.3 893.5 1096.0 895.0 1095.4 896.5 1095.0 898.0 1094.9 899.5 1094.3 901.0 1094.2 902.5 1093.9 904.0 1093.4 905.5 1093.5 907.0 1093.5 908.5 1094.2 910.0 1094.8 911.5 1094.9 913.0 1095.7 914.5 1096.0 916.0 1097.4 917.5 1098.2 919.0 1098.8 920.5 1099.9 922.0 1100.0 923.5 1100.8 925.0 1101.1 926.5 1101.0 928.0 1101.6 929.5 1101.8 931.0 1101.4 932.5 1101.5 934.0 1102.0 935.5 1101.9 937.0 1101.8 938.5 1102.0 940.0 1102.1 941.5 1102.2 943.0 1102.5 944.5 1102.5 946.0 1102.9 947.5 1102.9 949.0 1102.9 950.5 1103.1 952.0 1103.3 953.5 1103.5 955.0 1103.5 956.5 1104.4 958.0 1104.7 959.5 1105.5 961.0 1105.8 962.5 1106.4 964.0 1106.8 965.5 1107.5 967.0 1107.5 968.5 1107.7 970.0 1107.9 971.5 1107.9 973.0 1108.2 974.5 1108.3 976.0 1108.4 977.5 1108.8 979.0 1108.5 980.5 1108.6 982.0 1108.7 983.5 1108.9 985.0 1108.6 986.5 1108.8 988.0 1109.0 989.5 1109.1 991.0 1109.1 992.5 1109.0 994.0 1109.0 995.5 1109.4 997.0 1109.6 998.5 1109.5 1000.0 1109.6 1001.5 1109.7 1003.0 1109.6 1004.5 1109.8 1006.0 1110.0 1007.5 1110.2 1009.0 1110.3 1010.5 1110.2 1012.0 1110.9 1013.5 1111.1 1015.0 1110.9 1016.5 1111.2 1018.0 1111.4 1019.5 1111.7 1021.0 1111.4 1022.5 1112.2 1024.0 1112.0 1025.5 1112.5 1027.0 1112.5 1028.5 1112.5 1030.0 1112.8 1031.5 1113.1 1033.0 1113.0 1034.5 1113.2 1036.0 1113.3 1037.5 1113.2 1039.0 1114.0 1040.5 1114.0 1042.0 1114.0 1043.5 1114.3 1045.0 1114.0 1046.5 1114.3 1048.0 1114.7 1049.5 1114.6 1051.0 1114.0 1052.5 1113.8 1054.0 1114.3 1055.5 1114.7 1057.0 1114.4 1058.5 1114.4 1060.0 1114.6 1061.5 1114.3 1063.0 1114.5 1064.5 1114.6 1066.0 1114.5 1067.5 1114.5 1069.0 1114.3 1070.5 1114.5 1072.0 1114.2 1073.5 1114.6 1075.0 1114.8 1076.5 1114.1 1078.0 1113.8 1079.5 1114.1 1081.0 1114.2 1082.5 1114.3 1084.0 1114.3 1085.5 1113.9 1087.0 1113.9 1088.5 1114.2 1090.0 1113.7 1091.5 1114.1 1093.0 1113.9 1094.5 1114.0 1096.0 1114.0 1097.5 1114.0 1099.0 1114.0 1100.5 1113.6 1102.0 1113.8 1103.5 1113.7 1105.0 1113.8 1106.5 1114.0 1108.0 1113.7 1109.5 1113.6 1111.0 1113.6 1112.5 1113.6 1114.0 1113.9 1115.5 1113.6 1117.0 1114.1 1118.5 1114.0 1120.0 1114.1 1121.5 1114.0 1123.0 1114.5 1124.5 1114.7 1126.0 1114.4 1127.5 1115.2 1129.0 1115.5 1130.5 1115.4 1132.0 1115.6 1133.5 1116.2 1135.0 1116.2 1136.5 1115.9 1138.0 1116.3 1139.5 1116.4 1141.0 1116.5 1142.5 1116.2 1144.0 1117.0 1145.5 1116.8 1147.0 1117.0 1148.5 1117.0 1150.0 1117.2 1151.5 1116.9 1153.0 1116.8 1154.5 1117.1 1156.0 1117.3 1157.5 1116.9 1159.0 1117.3 1160.5 1117.1 1162.0 1116.9 1163.5 1117.3 1165.0 1116.8 1166.5 1117.2 1168.0 1116.9 1169.5 1117.1 1171.0 1116.8 1172.5 1116.8 1174.0 1117.2 1175.5 1117.0 1177.0 1117.0 1178.5 1116.9 1180.0 1117.1 1181.5 1116.7 1183.0 1116.8 1184.5 1117.0 1186.0 1116.8 1187.5 1116.9 1189.0 1117.0 1190.5 1117.0 1192.0 1117.0 1193.5 1117.3 1195.0 1117.2 1196.5 1117.2 1198.0 1117.0 1199.5 1116.9 1201.0 1116.7 1202.5 1116.9 1204.0 1116.6 1205.5 1116.9 1207.0 1117.2 1208.5 1117.3 1210.0 1117.2 1211.5 1116.8 1213.0 1117.1 1214.5 1116.8 1216.0 1117.2 1217.5 1117.0 1219.0 1117.4 1220.5 1118.4 1222.0 1118.9 1223.5 1119.9 1225.0 1119.8 1226.5 1119.7 1228.0 1120.1 1229.5 1120.1 1231.0 1119.4 1232.5 1119.8 1234.0 1118.9 1235.5 1119.6 1237.0 1120.2 1238.5 1119.6 1240.0 1119.3 1241.5 1118.8 1243.0 1119.8 1244.5 1120.0 1246.0 1119.9 1247.5 1119.6 1249.0 1118.7 1250.5 1120.4 1252.0 1119.3 1253.5 1119.2 1255.0 1119.7 1256.5 1117.9 1258.0 1119.1 1259.5 1119.1 1261.0 1119.3 1262.5 1119.9 1264.0 1119.3 1265.5 1117.9 1267.0 1118.8 1268.5 1119.1 1270.0 1119.0 1271.5 1118.1 1273.0 1117.9 1274.5 1119.2 1276.0 1119.0 1277.5 1118.8 1279.0 1117.8 1280.5 1119.9 1282.0 1117.1 1283.5 1118.7 1285.0 1120.4 1286.5 1119.5 1288.0 1120.2 1289.5 1119.9 1291.0 1122.4 1292.5 1120.5 1294.0 1122.4 1295.5 1122.6 1297.0 1121.6 1298.5 1121.4 1300.0 1114.6 1301.5 1113.5 1303.0 1114.1 1304.5 1113.8 1306.0 1114.6 1307.5 1115.1 1309.0 1114.1 1310.5 1114.0 1312.0 1114.1 1313.5 1114.3 1315.0 1115.5 1316.5 1114.7 1318.0 1115.4 1319.5 1115.1 1321.0 1114.6 1322.5 1116.3 1324.0 1114.7 1325.5 1115.8 1327.0 1117.3 1328.5 1115.1 1330.0 1116.2 1331.5 1114.9 1333.0 1116.0 1334.5 1115.2 1336.0 1116.4 1337.5 1116.3 1339.0 1117.0 1340.5 1118.3 1342.0 1117.2 1343.5 1117.6 1345.0 1117.0 1346.5 1115.8 1348.0 1113.0 1349.5 1109.2 1351.0 1105.5 1352.5 1101.9 1354.0 1100.6 1355.5 1104.4 1357.0 1111.5 1358.5 1114.0 1360.0 1117.5 1361.5 1117.8 1363.0 1118.1 1364.5 1118.9 1366.0 1121.0 1367.5 1119.0 1369.0 1118.3 1370.5 1118.8 1372.0 1119.1 1373.5 1117.8 1375.0 1118.7 1376.5 1116.2 1377.0 1114.8 1378.0 1117.1 1379.5 1118.3 1381.0 1118.0 1382.5 1120.7 1384.0 1120.6 1385.5 1118.2 1387.0 1119.9 1388.5 1121.7 1390.0 1127.0 1390.3 1127.7 1391.5 1123.2 1393.0 1120.0 1394.5 1120.0 1396.0 1119.8 1397.5 1118.3 1399.0 1117.3 1400.5 1119.3 1402.0 1118.5 1403.5 1120.3 1405.0 1120.7 1406.5 1120.4 1408.0 1129.4 1409.3 1141.1 1409.5 1140.3 1411.0 1125.6 1412.5 1121.1 1414.0 1120.9 1415.5 1120.5 1417.0 1121.6 1418.5 1119.7 1420.0 1121.2 1421.5 1119.5 1423.0 1119.7 1424.5 1119.5 1426.0 1120.8 1427.5 1119.6 1429.0 1120.5 1430.5 1119.4 1432.0 1121.4 1433.5 1122.1 1435.0 1120.7 1436.5 1122.0 1438.0 1121.0 1439.5 1122.5 1441.0 1120.6 1442.5 1119.1 1444.0 1121.8 1445.5 1120.4 1447.0 1119.6 1448.5 1119.9 1450.0 1119.0 1451.5 1120.3 1453.0 1119.5 1454.5 1121.8 1456.0 1121.1 1457.5 1119.0 1459.0 1118.9 1460.5 1116.3 1461.3 1113.3 1462.0 1116.5 1463.5 1120.0 1465.0 1119.8 1466.5 1120.0 1468.0 1120.9 1469.5 1121.8 1471.0 1123.9 1472.5 1126.9 1472.7 1128.3 1474.0 1123.0 1475.5 1117.4 1476.4 1114.1 1477.0 1117.0 1478.5 1118.7 1480.0 1119.6 1481.5 1120.5 1483.0 1122.4 1484.5 1125.9 1485.0 1128.5 1486.0 1125.6 1487.5 1120.7 1489.0 1119.7 1490.5 1120.6 1492.0 1120.3 1493.5 1121.8 1495.0 1121.0 1496.5 1119.3 1498.0 1118.5 1499.5 1120.6 1501.0 1127.1 1502.0 1130.2 1502.5 1128.8 1504.0 1121.7 1505.5 1119.3 1507.0 1121.2 1508.5 1120.7 1510.0 1121.2 1511.5 1119.4 1513.0 1120.8 1514.5 1120.1 1516.0 1121.5 1517.5 1120.3 1519.0 1119.2 1520.5 1115.3 1521.0 1115.6 1522.0 1117.2 1523.5 1120.3 1525.0 1124.4 1526.5 1133.8 1526.7 1137.3 1528.0 1126.3 1529.5 1120.4 1531.0 1121.8 1532.5 1122.3 1534.0 1122.5 1535.5 1133.5 1536.2 1138.2 1537.0 1133.0 1538.5 1122.1 1540.0 1122.9 1541.5 1121.6 1543.0 1122.9 1544.5 1120.5 1546.0 1122.4 1547.5 1120.4 1549.0 1120.2 1550.5 1121.7 1552.0 1121.4 1553.5 1121.7 1555.0 1121.4 1556.5 1122.0 1558.0 1121.7 1559.5 1121.4 1561.0 1121.7 1562.5 1121.9 1564.0 1121.5 1565.5 1121.8 1567.0 1122.1 1568.5 1121.9 1570.0 1121.7 1571.5 1121.6 1573.0 1121.8 1574.5 1121.4 1576.0 1121.1 1577.5 1121.6 1579.0 1121.5 1580.5 1122.1 1582.0 1121.7 1583.5 1121.5 1585.0 1121.5 1586.5 1121.8 1588.0 1121.5 1589.5 1121.6 1591.0 1121.7 1592.5 1121.7 1594.0 1121.7 1595.5 1121.7 1597.0 1122.0 1598.5 1122.1 1600.0 1121.4 1601.5 1122.2 1603.0 1121.7 1604.5 1122.0 1606.0 1121.6 1607.5 1121.8 1609.0 1121.8 1610.5 1121.7 1612.0 1121.9 1613.5 1121.8 1615.0 1121.5 1616.5 1121.7 1618.0 1121.9 1619.5 1121.9 1621.0 1121.6 1622.5 1121.7 1624.0 1121.7 1625.5 1121.5 1627.0 1121.5 1628.5 1122.0 1630.0 1121.6 1631.5 1121.7 1633.0 1121.5 1634.5 1121.9 1636.0 1122.0 1637.5 1121.6 1639.0 1121.7 1640.5 1121.4 1642.0 1121.9 1643.5 1121.7 1645.0 1121.3 1646.5 1121.7 1648.0 1121.5 1649.5 1121.4 1651.0 1121.3 1652.5 1121.1 1654.0 1121.0 1655.5 1121.2 1657.0 1121.0 1658.5 1120.7 1660.0 1121.2 1661.5 1120.7 1663.0 1120.5 1664.5 1119.9 1666.0 1119.3 1667.5 1118.3 1669.0 1116.8 1670.5 1115.0 1672.0 1110.9 1673.5 1106.3 1675.0 1101.2 1676.5 1096.9 1678.0 1094.0 1679.5 1090.8 1681.0 1089.6 1682.5 1087.5 1684.0 1087.9 1685.5 1088.9 1687.0 1090.3 1688.5 1091.7 1690.0 1092.4 1691.5 1093.8 1693.0 1095.2 1694.5 1095.8 1696.0 1096.5 1697.5 1096.5 1699.0 1096.8 1700.0 1095.8 1700.5 1095.3 1701.0 1094.7 1701.5 1094.1 1702.0 1093.3 1702.5 1092.5 1703.0 1091.6 1703.5 1090.7 1704.0 1089.7 1704.5 1088.6 1705.0 1087.5 1705.5 1086.3 1706.0 1085.1 1706.1 1084.8C1707.7 1080.6 1709.4 1062.8 1711.0 1047.7C1712.6 1033.0 1714.2 1008.5 1715.8 991.3C1717.7 970.8 1719.6 950.6 1721.5 934.8C1723.4 919.2 1725.2 901.4 1727.1 894.5C1729.5 885.5 1732.0 876.8 1734.4 876.8C1736.8 876.8 1739.2 883.8 1741.6 891.3C1743.8 898.1 1745.9 922.4 1748.1 934.8C1750.1 946.5 1752.2 965.5 1754.2 965.5C1755.9 965.5 1757.7 954.7 1759.4 942.9C1760.7 933.8 1762.1 899.6 1763.4 886.5C1764.6 874.4 1765.9 858.5 1767.1 858.5C1768.8 858.5 1770.6 880.4 1772.3 894.5C1774.4 911.9 1776.6 935.7 1778.7 959.0C1780.3 976.4 1781.9 1001.0 1783.5 1015.5C1784.9 1027.9 1786.2 1046.1 1787.6 1046.1C1790.0 1046.1 1792.4 1031.2 1794.8 1015.5C1797.0 1001.3 1799.1 953.6 1801.3 926.8C1803.4 900.4 1805.6 867.7 1807.7 854.2C1809.4 843.3 1811.2 831.0 1812.9 831.0C1814.9 831.0 1817.0 842.7 1819.0 854.2C1821.2 866.4 1823.3 902.0 1825.5 926.8C1827.1 945.1 1828.7 966.8 1830.3 983.2C1831.5 995.8 1832.8 1017.1 1834.0 1017.1C1836.3 1017.1 1838.5 987.6 1840.8 959.0C1841.3 952.7 1841.8 935.2 1842.3 931.7C1843.4 924.0 1844.5 918.7 1845.6 918.7C1846.7 918.7 1847.8 925.8 1848.9 931.7C1849.7 936.0 1850.5 943.5 1851.3 951.0C1852.9 966.0 1854.5 992.8 1856.1 1007.4C1857.3 1018.4 1858.5 1034.8 1859.7 1034.8C1861.7 1034.8 1863.8 1002.4 1865.8 991.3C1868.0 979.3 1870.2 962.2 1872.4 962.2C1874.1 962.2 1875.9 966.3 1877.6 971.1C1878.9 974.6 1880.1 990.9 1881.4 995.2C1882.7 999.5 1883.9 1004.1 1885.2 1004.1C1886.5 1004.1 1887.7 1002.6 1889.0 1001.5C1890.1 1000.6 1891.1 997.7 1892.2 997.7C1893.2 997.7 1894.3 1000.7 1895.3 1004.1C1896.2 1006.9 1897.0 1016.4 1897.9 1023.1C1899.2 1032.9 1900.4 1046.7 1901.7 1054.7C1903.4 1065.4 1905.1 1077.4 1906.8 1080.1C1908.1 1082.1 1909.3 1083.9 1910.6 1083.9C1913.5 1083.9 1916.5 1076.3 1919.4 1076.3C1921.9 1076.3 1924.5 1078.8 1927.0 1078.8C1929.1 1078.8 1931.3 1075.3 1933.4 1071.2C1935.1 1068.0 1936.7 1055.2 1938.4 1048.4C1940.1 1041.4 1941.8 1034.2 1943.5 1029.4C1945.6 1023.5 1947.7 1015.5 1949.8 1015.5C1952.3 1015.5 1954.9 1015.5 1957.4 1015.5C1958.7 1015.5 1959.9 1008.0 1961.2 1004.1C1962.3 1000.8 1963.3 993.9 1964.4 993.9C1965.7 993.9 1966.9 997.9 1968.2 1001.5C1969.3 1004.5 1970.3 1014.9 1971.4 1016.7C1972.7 1018.8 1973.9 1020.5 1975.2 1020.5C1978.2 1020.5 1981.1 1019.1 1984.1 1016.7C1985.6 1015.5 1987.0 1010.4 1988.5 1004.1C1989.6 999.5 1990.6 987.8 1991.7 978.7C1993.0 967.9 1994.2 952.5 1995.5 943.2C1996.8 933.9 1998.0 924.0 1999.3 920.4C2000.6 916.8 2001.8 913.4 2003.1 913.4C2004.4 913.4 2005.6 916.5 2006.9 920.4C2008.2 924.2 2009.4 940.8 2010.7 953.4C2012.0 966.0 2013.2 984.1 2014.5 997.7C2015.8 1011.3 2017.0 1025.0 2018.3 1035.7C2019.6 1046.4 2020.8 1059.1 2022.1 1063.6C2024.2 1071.1 2026.3 1073.7 2028.4 1077.6C2030.5 1081.5 2032.6 1085.1 2034.7 1087.7C2036.8 1090.3 2039.0 1092.1 2041.1 1094.0C2043.6 1096.2 2046.1 1100.0 2048.6 1100.0C2050.1 1100.0 2051.6 1094.8 2053.1 1092.8C2054.1 1091.5 2055.0 1089.3 2056.0 1089.3C2057.2 1089.3 2058.3 1092.4 2059.5 1095.3C2060.5 1097.9 2061.6 1107.0 2062.6 1109.2C2063.7 1111.6 2064.8 1113.9 2065.9 1113.9C2069.2 1113.9 2072.4 1113.4 2075.7 1112.7C2080.6 1111.7 2085.6 1097.9 2090.5 1097.9C2093.4 1097.9 2096.2 1104.0 2099.1 1104.0C2104.0 1104.0 2109.0 1095.4 2113.9 1095.4C2118.8 1095.4 2123.8 1101.6 2128.7 1102.8C2134.0 1104.1 2139.4 1103.9 2144.7 1105.3C2146.8 1105.9 2148.8 1107.2 2150.9 1109.0C2153.3 1111.1 2155.8 1120.1 2158.2 1120.1C2160.3 1120.1 2162.3 1113.3 2164.4 1113.3C2166.5 1113.3 2168.5 1118.8 2170.6 1118.8C2174.3 1118.8 2177.9 1117.6 2181.6 1117.6C2184.9 1117.6 2188.2 1122.5 2191.5 1122.5C2194.4 1122.5 2197.2 1120.7 2200.1 1119.4C2203.0 1118.1 2205.8 1113.9 2208.7 1113.9C2211.2 1113.9 2213.6 1114.5 2216.1 1114.5C2218.6 1114.5 2221.0 1109.6 2223.5 1109.6C2226.4 1109.6 2229.2 1113.9 2232.1 1113.9C2234.6 1113.9 2237.0 1107.5 2239.5 1105.3C2243.6 1101.6 2247.7 1096.7 2251.8 1096.7C2254.3 1096.7 2256.7 1099.2 2259.2 1101.6C2262.1 1104.4 2265.0 1116.5 2267.9 1118.8C2269.9 1120.4 2272.0 1121.9 2274.0 1121.9C2277.3 1121.9 2280.6 1118.0 2283.9 1115.1C2286.4 1112.9 2288.8 1109.9 2291.3 1106.5C2293.2 1103.9 2295.1 1100.2 2297.0 1097.0" stroke="#008000"/>
<path d="M208.0 1477.6L209.5 1477.6 211.0 1478.0 212.5 1477.8 214.0 1477.3 215.5 1477.6 217.0 1477.5 218.5 1477.6 220.0 1477.2 221.5 1477.6 223.0 1477.6 224.5 1477.8 226.0 1477.5 227.5 1477.6 229.0 1477.1 230.5 1477.9 232.0 1477.0 233.5 1477.6 235.0 1477.3 236.5 1477.2 238.0 1477.2 239.5 1477.2 241.0 1477.4 242.5 1477.2 244.0 1477.5 245.5 1476.9 247.0 1477.2 248.5 1477.0 250.0 1477.3 251.5 1476.7 253.0 1477.1 254.5 1477.1 256.0 1476.8 257.5 1477.3 259.0 1477.1 260.5 1477.2 262.0 1477.2 263.5 1476.8 265.0 1476.8 266.5 1476.9 268.0 1477.1 269.5 1477.1 271.0 1476.8 272.5 1476.8 274.0 1476.7 275.5 1476.7 277.0 1476.8 278.5 1476.8 280.0 1477.2 281.5 1476.7 283.0 1476.7 284.5 1476.8 286.0 1476.5 287.5 1476.6 289.0 1476.7 290.5 1476.8 292.0 1476.3 293.5 1476.9 295.0 1476.5 296.5 1476.6 298.0 1476.7 299.5 1476.6 301.0 1476.7 302.5 1476.5 304.0 1476.4 305.5 1476.5 307.0 1476.2 308.5 1476.6 310.0 1476.2 311.5 1476.1 313.0 1476.7 314.5 1476.3 316.0 1476.1 317.5 1476.7 319.0 1476.2 320.5 1476.5 322.0 1476.1 323.5 1476.2 325.0 1475.9 326.5 1475.8 328.0 1476.0 329.5 1476.2 331.0 1476.3 332.5 1476.6 334.0 1475.9 335.5 1476.3 337.0 1476.0 338.5 1476.1 340.0 1475.8 341.5 1475.8 343.0 1475.9 344.5 1475.8 346.0 1476.0 347.5 1475.9 349.0 1476.2 350.5 1476.0 352.0 1476.0 353.5 1476.2 355.0 1476.0 356.5 1475.9 358.0 1475.9 359.5 1475.9 361.0 1476.1 362.5 1476.0 364.0 1475.9 365.5 1476.0 367.0 1475.7 368.5 1475.9 370.0 1475.4 371.5 1476.0 373.0 1475.7 374.5 1475.7 376.0 1475.8 377.5 1475.6 379.0 1475.5 380.5 1475.8 382.0 1475.5 383.5 1475.3 385.0 1475.5 386.5 1475.1 388.0 1475.7 389.5 1475.3 391.0 1475.3 392.5 1475.7 394.0 1475.7 395.5 1475.2 397.0 1475.3 398.5 1475.3 400.0 1475.4 401.5 1475.0 403.0 1475.0 404.5 1475.2 406.0 1474.9 407.5 1475.0 409.0 1474.9 410.5 1474.4 412.0 1474.4 413.5 1473.8 415.0 1474.1 416.5 1474.2 418.0 1473.4 419.5 1473.6 421.0 1473.3 422.5 1472.9 424.0 1472.6 425.5 1472.3 427.0 1471.8 428.5 1471.6 430.0 1471.3 431.5 1471.1 433.0 1470.7 434.5 1470.0 436.0 1469.9 437.5 1469.2 439.0 1468.9 440.5 1468.6 442.0 1468.1 443.5 1467.6 445.0 1467.3 446.5 1466.7 448.0 1466.2 449.5 1465.9 451.0 1465.7 452.5 1465.0 454.0 1465.0 455.5 1464.2 457.0 1463.2 458.5 1463.3 460.0 1463.3 461.5 1462.6 463.0 1462.1 464.5 1461.7 466.0 1461.7 467.5 1461.3 469.0 1460.8 470.5 1460.4 472.0 1460.2 473.5 1459.7 475.0 1459.0 476.5 1459.0 478.0 1458.5 479.5 1458.0 481.0 1457.8 482.5 1457.3 484.0 1456.4 485.5 1456.9 487.0 1456.4 488.5 1455.8 490.0 1455.4 491.5 1455.1 493.0 1454.4 494.5 1454.4 496.0 1453.9 497.5 1453.5 499.0 1453.0 500.5 1452.7 502.0 1452.6 503.5 1452.3 505.0 1451.7 506.5 1451.2 508.0 1450.7 509.5 1450.6 511.0 1450.3 512.5 1449.3 514.0 1449.4 515.5 1448.3 517.0 1448.3 518.5 1448.0 520.0 1447.2 521.5 1446.8 523.0 1446.7 524.5 1446.4 526.0 1445.7 527.5 1445.7 529.0 1444.8 530.5 1444.9 532.0 1444.2 533.5 1443.8 535.0 1443.5 536.5 1443.1 538.0 1443.0 539.5 1442.7 541.0 1442.0 542.5 1441.5 544.0 1441.0 545.5 1440.7 547.0 1440.6 548.5 1440.3 550.0 1440.0 551.5 1439.7 553.0 1439.6 554.5 1439.0 556.0 1438.8 557.5 1439.0 559.0 1438.8 560.5 1438.3 562.0 1438.5 563.5 1437.9 565.0 1437.8 566.5 1437.3 568.0 1437.6 569.5 1437.2 571.0 1437.2 572.5 1436.9 574.0 1436.6 575.5 1436.4 577.0 1436.3 578.5 1435.8 580.0 1435.5 581.5 1435.2 583.0 1435.0 584.5 1434.7 586.0 1434.5 587.5 1433.7 589.0 1433.6 590.5 1432.8 592.0 1432.6 593.5 1432.0 595.0 1431.8 596.5 1431.1 598.0 1430.4 599.5 1430.1 601.0 1429.5 602.5 1428.8 604.0 1428.2 605.5 1427.4 607.0 1427.4 608.5 1426.1 610.0 1425.4 611.5 1424.1 613.0 1423.2 614.5 1422.6 616.0 1421.8 617.5 1421.2 619.0 1420.2 620.5 1419.9 622.0 1419.6 623.5 1418.7 625.0 1418.7 626.5 1417.9 628.0 1417.7 629.5 1417.4 631.0 1417.3 632.5 1416.4 634.0 1416.3 635.5 1416.1 637.0 1415.4 638.5 1415.4 640.0 1415.0 641.5 1414.8 643.0 1415.0 644.5 1414.8 646.0 1415.1 647.5 1414.8 649.0 1414.8 650.5 1414.4 652.0 1414.4 653.5 1414.4 655.0 1413.9 656.5 1414.7 658.0 1414.2 659.5 1414.1 661.0 1414.2 662.5 1414.5 664.0 1414.7 665.5 1414.5 667.0 1414.9 668.5 1415.1 670.0 1415.2 671.5 1415.8 673.0 1416.1 674.5 1416.2 676.0 1417.1 677.5 1416.9 679.0 1417.7 680.5 1417.8 682.0 1418.3 683.5 1418.8 685.0 1419.6 686.5 1419.7 688.0 1420.4 689.5 1421.4 691.0 1421.5 692.5 1422.2 694.0 1422.9 695.5 1423.2 697.0 1424.0 698.5 1424.3 700.0 1425.1 701.5 1425.5 703.0 1425.8 704.5 1426.7 706.0 1426.8 707.5 1427.2 709.0 1427.4 710.5 1427.9 712.0 1428.3 713.5 1428.8 715.0 1429.3 716.5 1429.2 718.0 1429.8 719.5 1430.6 721.0 1430.8 722.5 1431.3 724.0 1432.0 725.5 1432.3 727.0 1433.0 728.5 1433.6 730.0 1434.7 731.5 1435.3 733.0 1435.8 734.5 1436.8 736.0 1437.2 737.5 1438.4 739.0 1439.0 740.5 1439.5 742.0 1440.0 743.5 1440.1 745.0 1441.0 746.5 1441.0 748.0 1441.2 749.5 1441.6 751.0 1441.5 752.5 1441.6 754.0 1441.8 755.5 1441.8 757.0 1442.6 758.5 1442.2 760.0 1442.3 761.5 1442.7 763.0 1442.1 764.5 1442.9 766.0 1443.2 767.5 1443.3 769.0 1444.0 770.5 1443.9 772.0 1444.8 773.5 1445.5 775.0 1445.3 776.5 1445.9 778.0 1446.5 779.5 1446.7 781.0 1446.7 782.5 1446.8 784.0 1446.7 785.5 1446.2 787.0 1446.3 788.5 1445.8 790.0 1445.4 791.5 1445.1 793.0 1445.5 794.5 1445.0 796.0 1445.1 797.5 1444.1 799.0 1444.1 800.5 1444.0 802.0 1443.7 803.5 1443.7 805.0 1443.5 806.5 1443.3 808.0 1442.9 809.5 1443.3 811.0 1444.1 812.5 1444.2 814.0 1444.8 815.5 1444.8 817.0 1445.4 818.5 1445.9 820.0 1446.7 821.5 1447.2 823.0 1447.8 824.5 1448.5 826.0 1448.4 827.5 1449.1 829.0 1449.1 830.5 1450.0 832.0 1450.2 833.5 1450.7 835.0 1451.2 836.5 1451.9 838.0 1452.0 839.5 1452.4 841.0 1452.7 842.5 1453.4 844.0 1453.5 845.5 1454.0 847.0 1454.4 848.5 1454.9 850.0 1454.9 851.5 1455.4 853.0 1455.9 854.5 1455.4 856.0 1456.1 857.5 1456.3 859.0 1455.8 860.5 1456.0 862.0 1455.5 863.5 1455.8 865.0 1455.6 866.5 1455.6 868.0 1455.2 869.5 1455.0 871.0 1454.9 872.5 1454.7 874.0 1454.5 875.5 1454.4 877.0 1453.9 878.5 1453.9 880.0 1453.8 881.5 1453.0 883.0 1453.2 884.5 1452.8 886.0 1452.4 887.5 1452.1 889.0 1452.0 890.5 1451.8 892.0 1451.7 893.5 1451.2 895.0 1451.3 896.5 1450.6 898.0 1450.5 899.5 1450.2 901.0 1449.4 902.5 1449.5 904.0 1449.5 905.5 1448.7 907.0 1448.8 908.5 1448.7 910.0 1449.1 911.5 1449.8 913.0 1450.7 914.5 1452.0 916.0 1453.1 917.5 1453.9 919.0 1455.0 920.5 1455.5 922.0 1455.7 923.5 1455.6 925.0 1456.3 926.5 1456.3 928.0 1455.8 929.5 1456.1 931.0 1456.4 932.5 1456.8 934.0 1456.9 935.5 1456.7 937.0 1456.9 938.5 1457.0 940.0 1456.7 941.5 1457.2 943.0 1457.1 944.5 1457.2 946.0 1457.3 947.5 1457.2 949.0 1457.3 950.5 1457.7 952.0 1457.8 953.5 1457.9 955.0 1458.4 956.5 1458.4 958.0 1458.6 959.5 1459.3 961.0 1459.9 962.5 1460.5 964.0 1461.3 965.5 1461.8 967.0 1462.4 968.5 1462.8 970.0 1462.9 971.5 1463.4 973.0 1463.3 974.5 1463.5 976.0 1463.4 977.5 1463.8 979.0 1463.8 980.5 1464.0 982.0 1464.4 983.5 1464.5 985.0 1464.3 986.5 1464.2 988.0 1464.4 989.5 1464.3 991.0 1464.2 992.5 1464.4 994.0 1464.4 995.5 1464.4 997.0 1464.8 998.5 1464.5 1000.0 1464.6 1001.5 1464.9 1003.0 1464.7 1004.5 1464.8 1006.0 1464.9 1007.5 1465.3 1009.0 1465.4 1010.5 1465.5 1012.0 1465.4 1013.5 1465.5 1015.0 1466.0 1016.5 1465.6 1018.0 1466.0 1019.5 1465.9 1021.0 1466.2 1022.5 1466.4 1024.0 1466.8 1025.5 1466.1 1027.0 1467.1 1028.5 1466.7 1030.0 1467.1 1031.5 1467.3 1033.0 1467.1 1034.5 1467.4 1036.0 1467.6 1037.5 1467.6 1039.0 1467.5 1040.5 1467.8 1042.0 1467.9 1043.5 1467.6 1045.0 1468.3 1046.5 1468.1 1048.0 1467.6 1049.5 1468.0 1051.0 1468.6 1052.5 1468.6 1054.0 1468.4 1055.5 1468.0 1057.0 1468.4 1058.5 1468.7 1060.0 1468.6 1061.5 1468.5 1063.0 1468.4 1064.5 1468.8 1066.0 1468.6 1067.5 1468.7 1069.0 1468.8 1070.5 1469.1 1072.0 1468.8 1073.5 1468.9 1075.0 1468.5 1076.5 1469.1 1078.0 1469.1 1079.5 1469.0 1081.0 1468.6 1082.5 1468.9 1084.0 1469.1 1085.5 1469.6 1087.0 1469.3 1088.5 1469.4 1090.0 1469.5 1091.5 1469.6 1093.0 1469.2 1094.5 1469.3 1096.0 1469.3 1097.5 1469.6 1099.0 1469.6 1100.5 1469.8 1102.0 1469.7 1103.5 1470.0 1105.0 1469.9 1106.5 1470.6 1108.0 1470.2 1109.5 1470.9 1111.0 1470.8 1112.5 1470.4 1114.0 1470.9 1115.5 1471.0 1117.0 1470.6 1118.5 1471.2 1120.0 1471.2 1121.5 1471.4 1123.0 1471.2 1124.5 1471.5 1126.0 1471.7 1127.5 1471.7 1129.0 1471.7 1130.5 1471.9 1132.0 1471.9 1133.5 1472.3 1135.0 1471.8 1136.5 1472.7 1138.0 1472.5 1139.5 1472.7 1141.0 1472.8 1142.5 1472.5 1144.0 1473.3 1145.5 1472.7 1147.0 1473.2 1148.5 1473.2 1150.0 1473.5 1151.5 1473.4 1153.0 1473.2 1154.5 1473.6 1156.0 1473.2 1157.5 1473.7 1159.0 1473.8 1160.5 1474.2 1162.0 1473.9 1163.5 1473.9 1165.0 1473.9 1166.5 1473.9 1168.0 1474.0 1169.5 1474.2 1171.0 1473.8 1172.5 1474.0 1174.0 1473.8 1175.5 1474.0 1177.0 1474.1 1178.5 1473.8 1180.0 1473.9 1181.5 1474.0 1183.0 1474.1 1184.5 1474.1 1186.0 1473.9 1187.5 1473.7 1189.0 1473.5 1190.5 1474.0 1192.0 1474.0 1193.5 1473.8 1195.0 1474.0 1196.5 1473.6 1198.0 1473.5 1199.5 1473.9 1201.0 1473.3 1202.5 1473.6 1204.0 1473.6 1205.5 1473.5 1207.0 1473.8 1208.5 1473.2 1210.0 1473.3 1211.5 1472.9 1213.0 1473.1 1214.5 1473.2 1216.0 1473.2 1217.5 1473.2 1219.0 1473.3 1220.5 1473.1 1222.0 1472.8 1223.5 1473.2 1225.0 1473.3 1226.5 1473.0 1228.0 1473.1 1229.5 1473.6 1231.0 1473.5 1232.5 1473.5 1234.0 1473.5 1235.5 1473.4 1237.0 1473.3 1238.5 1473.6 1240.0 1473.5 1241.5 1473.5 1243.0 1473.6 1244.5 1473.6 1246.0 1473.9 1247.5 1473.6 1249.0 1474.3 1250.5 1473.3 1252.0 1473.7 1253.5 1474.5 1255.0 1473.5 1256.5 1473.7 1258.0 1474.1 1259.5 1472.3 1261.0 1473.8 1262.5 1473.5 1264.0 1473.9 1265.5 1474.3 1267.0 1474.3 1268.5 1474.7 1270.0 1474.4 1271.5 1473.9 1273.0 1473.0 1274.5 1473.4 1276.0 1471.9 1277.5 1472.1 1279.0 1472.8 1280.5 1472.1 1282.0 1470.5 1283.5 1470.7 1285.0 1471.4 1286.5 1471.0 1288.0 1471.1 1289.5 1469.3 1291.0 1469.5 1292.5 1470.2 1294.0 1469.9 1295.5 1470.7 1297.0 1471.0 1298.5 1471.5 1300.0 1471.6 1301.5 1472.6 1303.0 1473.2 1304.5 1473.0 1306.0 1472.1 1307.5 1474.7 1309.0 1473.9 1310.5 1474.1 1312.0 1473.8 1313.5 1471.9 1315.0 1473.5 1316.5 1472.0 1318.0 1470.9 1319.5 1472.7 1321.0 1470.8 1322.5 1471.0 1324.0 1471.2 1325.5 1471.8 1327.0 1468.7 1328.5 1469.9 1330.0 1471.5 1331.5 1470.6 1333.0 1468.7 1334.5 1472.2 1336.0 1472.7 1337.5 1473.7 1339.0 1473.5 1340.5 1473.1 1342.0 1473.9 1343.5 1473.6 1345.0 1472.3 1346.5 1471.5 1348.0 1469.7 1349.5 1466.2 1351.0 1463.9 1352.5 1458.9 1354.0 1455.6 1355.5 1452.8 1357.0 1458.7 1358.5 1461.9 1360.0 1463.8 1361.5 1467.7 1363.0 1467.2 1364.5 1470.6 1366.0 1470.6 1367.5 1472.0 1369.0 1479.9 1369.5 1481.0 1370.5 1477.6 1372.0 1471.1 1373.5 1469.4 1374.2 1468.6 1375.0 1470.5 1376.5 1472.3 1378.0 1475.2 1379.5 1475.5 1381.0 1474.8 1382.5 1473.7 1384.0 1472.7 1385.5 1472.3 1387.0 1469.0 1387.5 1468.5 1388.5 1471.2 1390.0 1473.4 1391.5 1472.6 1393.0 1473.7 1394.5 1472.9 1396.0 1475.3 1397.5 1473.0 1399.0 1474.5 1400.5 1474.8 1402.0 1473.2 1403.5 1480.4 1404.5 1483.2 1405.0 1480.7 1406.5 1474.5 1408.0 1469.0 1408.8 1467.3 1409.5 1466.9 1411.0 1474.0 1412.5 1474.0 1414.0 1473.4 1415.5 1477.8 1416.8 1482.4 1417.0 1481.7 1418.5 1477.3 1420.0 1473.3 1421.5 1475.9 1423.0 1474.9 1424.5 1473.6 1426.0 1470.6 1427.3 1470.1 1427.5 1470.1 1429.0 1473.7 1430.5 1474.8 1432.0 1475.9 1433.5 1474.0 1435.0 1474.9 1436.5 1473.8 1438.0 1473.8 1439.5 1475.6 1441.0 1474.1 1442.5 1474.1 1444.0 1472.4 1445.5 1469.9 1445.7 1469.7 1447.0 1471.8 1448.5 1473.2 1450.0 1474.5 1451.5 1473.5 1453.0 1473.9 1454.5 1474.5 1456.0 1474.5 1457.5 1472.2 1459.0 1475.8 1460.5 1475.0 1462.0 1476.1 1463.5 1476.6 1465.0 1473.5 1466.5 1473.8 1468.0 1471.6 1469.0 1470.0 1469.5 1469.8 1471.0 1473.2 1472.5 1475.3 1474.0 1473.5 1475.5 1474.5 1477.0 1475.3 1478.5 1470.0 1479.8 1466.1 1480.0 1466.0 1481.5 1471.6 1483.0 1477.8 1483.2 1478.5 1484.5 1476.0 1486.0 1474.4 1487.5 1471.9 1488.8 1468.5 1489.0 1468.9 1490.5 1472.2 1492.0 1474.2 1493.5 1475.9 1495.0 1482.4 1495.5 1486.5 1496.5 1479.0 1498.0 1474.6 1499.5 1472.9 1501.0 1473.9 1502.5 1475.1 1504.0 1478.8 1505.0 1483.7 1505.5 1479.9 1507.0 1475.5 1508.5 1473.9 1510.0 1474.4 1511.5 1469.4 1512.5 1465.9 1513.0 1468.0 1514.5 1474.1 1516.0 1474.6 1517.5 1474.5 1519.0 1474.2 1520.5 1473.8 1522.0 1473.2 1523.5 1473.2 1525.0 1469.0 1525.8 1464.5 1526.5 1469.2 1528.0 1473.4 1529.5 1473.7 1531.0 1477.6 1532.4 1483.8 1532.5 1483.2 1534.0 1477.7 1535.5 1476.1 1537.0 1476.7 1538.5 1473.4 1540.0 1473.1 1541.4 1468.3 1541.5 1468.0 1543.0 1472.3 1544.5 1475.6 1546.0 1474.4 1547.5 1475.2 1549.0 1480.6 1549.5 1481.0 1550.5 1478.0 1552.0 1476.4 1553.5 1475.2 1555.0 1474.0 1556.5 1474.5 1558.0 1474.6 1559.5 1474.6 1561.0 1474.7 1562.5 1474.7 1564.0 1474.5 1565.5 1474.1 1567.0 1474.5 1568.5 1474.3 1570.0 1474.0 1571.5 1473.9 1573.0 1474.2 1574.5 1474.2 1576.0 1474.3 1577.5 1473.9 1579.0 1474.5 1580.5 1473.8 1582.0 1474.2 1583.5 1474.5 1585.0 1474.5 1586.5 1474.2 1588.0 1474.6 1589.5 1474.9 1591.0 1474.9 1592.5 1474.6 1594.0 1475.3 1595.5 1474.8 1597.0 1475.2 1598.5 1475.1 1600.0 1475.4 1601.5 1475.6 1603.0 1475.9 1604.5 1475.6 1606.0 1476.1 1607.5 1476.4 1609.0 1476.3 1610.5 1476.5 1612.0 1476.6 1613.5 1476.5 1615.0 1476.6 1616.5 1476.8 1618.0 1476.9 1619.5 1477.3 1621.0 1477.3 1622.5 1476.9 1624.0 1476.9 1625.5 1476.8 1627.0 1476.5 1628.5 1477.3 1630.0 1477.1 1631.5 1476.6 1633.0 1477.0 1634.5 1477.5 1636.0 1477.1 1637.5 1477.1 1639.0 1477.0 1640.5 1476.8 1642.0 1476.8 1643.5 1476.8 1645.0 1477.0 1646.5 1476.9 1648.0 1477.1 1649.5 1477.3 1651.0 1477.1 1652.5 1477.2 1654.0 1476.9 1655.5 1476.6 1657.0 1477.1 1658.5 1476.5 1660.0 1476.3 1661.5 1475.5 1663.0 1474.8 1664.5 1474.9 1666.0 1473.6 1667.5 1473.3 1669.0 1472.1 1670.5 1470.0 1672.0 1467.1 1673.5 1463.6 1675.0 1459.5 1676.5 1456.9 1678.0 1453.5 1679.5 1450.9 1681.0 1447.7 1682.5 1445.3 1684.0 1444.6 1685.5 1444.9 1687.0 1446.4 1688.5 1448.0 1690.0 1449.3 1691.5 1450.2 1693.0 1451.6 1694.5 1452.6 1696.0 1453.7 1697.5 1453.6 1699.0 1452.8 1700.0 1452.1 1700.5 1451.6 1701.0 1451.0 1701.5 1450.4 1702.0 1449.6 1702.5 1448.8 1703.0 1448.0 1703.5 1447.0 1704.0 1446.0 1704.5 1445.0 1705.0 1443.9 1705.5 1442.7 1706.0 1441.5 1706.1 1441.3C1707.7 1437.3 1709.4 1420.5 1711.0 1405.8C1712.6 1391.4 1714.2 1367.9 1715.8 1349.4C1717.7 1327.5 1719.6 1301.5 1721.5 1284.8C1723.4 1268.4 1725.2 1251.0 1727.1 1244.5C1729.5 1236.1 1732.0 1228.4 1734.4 1228.4C1736.8 1228.4 1739.2 1236.2 1741.6 1244.5C1743.8 1252.0 1745.9 1281.2 1748.1 1292.9C1750.1 1303.8 1752.2 1318.7 1754.2 1318.7C1755.9 1318.7 1757.7 1306.4 1759.4 1292.9C1760.7 1282.5 1762.1 1239.9 1763.4 1228.4C1764.6 1217.8 1765.9 1206.5 1767.1 1206.5C1768.8 1206.5 1770.6 1229.2 1772.3 1244.5C1774.4 1263.3 1776.6 1292.5 1778.7 1317.1C1780.3 1335.6 1781.9 1359.9 1783.5 1373.5C1784.9 1385.1 1786.2 1401.0 1787.6 1401.0C1790.0 1401.0 1792.4 1383.0 1794.8 1365.5C1797.0 1349.7 1799.1 1304.6 1801.3 1276.8C1803.4 1249.4 1805.6 1214.6 1807.7 1199.4C1809.4 1187.0 1811.2 1172.5 1812.9 1172.5C1814.9 1172.5 1817.0 1189.4 1819.0 1204.2C1821.2 1220.0 1823.3 1258.7 1825.5 1284.8C1827.1 1304.1 1828.7 1323.6 1830.3 1341.3C1831.5 1354.9 1832.8 1380.0 1834.0 1380.0C1836.3 1380.0 1838.5 1350.3 1840.8 1317.1C1841.3 1309.8 1841.8 1285.4 1842.3 1281.7C1843.4 1273.5 1844.5 1268.7 1845.6 1268.7C1846.7 1268.7 1847.8 1275.1 1848.9 1281.7C1849.7 1286.5 1850.5 1299.8 1851.3 1309.0C1852.9 1327.5 1854.5 1350.3 1856.1 1365.5C1857.3 1376.9 1858.5 1394.5 1859.7 1394.5C1861.7 1394.5 1863.8 1361.6 1865.8 1349.4C1868.0 1336.0 1870.3 1315.8 1872.5 1315.8C1874.0 1315.8 1875.4 1320.9 1876.9 1325.7C1878.3 1330.3 1879.7 1346.4 1881.1 1350.6C1882.5 1354.7 1883.8 1358.9 1885.2 1358.9C1886.6 1358.9 1888.0 1356.5 1889.4 1354.8C1890.3 1353.7 1891.2 1350.6 1892.1 1350.6C1893.0 1350.6 1894.0 1355.0 1894.9 1358.9C1895.8 1362.8 1896.8 1371.2 1897.7 1378.3C1899.1 1388.6 1900.4 1404.3 1901.8 1412.8C1903.2 1421.5 1904.6 1431.0 1906.0 1433.6C1907.6 1436.6 1909.2 1439.1 1910.8 1439.1C1912.9 1439.1 1914.9 1432.2 1917.0 1432.2C1921.2 1432.2 1925.3 1433.6 1929.5 1433.6C1931.3 1433.6 1933.2 1427.5 1935.0 1422.5C1937.3 1416.2 1939.6 1401.1 1941.9 1392.1C1943.7 1384.9 1945.6 1374.9 1947.4 1372.7C1949.3 1370.4 1951.1 1369.3 1953.0 1368.6C1954.8 1367.9 1956.7 1368.2 1958.5 1367.2C1959.4 1366.7 1960.4 1361.0 1961.3 1357.5C1962.2 1354.1 1963.1 1346.5 1964.0 1346.5C1965.4 1346.5 1966.8 1353.2 1968.2 1357.5C1969.6 1361.7 1970.9 1372.7 1972.3 1372.7C1975.1 1372.7 1977.8 1372.2 1980.6 1371.4C1982.0 1371.0 1983.4 1369.6 1984.8 1367.2C1986.2 1364.9 1987.5 1353.6 1988.9 1343.7C1990.3 1333.6 1991.7 1313.1 1993.1 1302.2C1994.9 1288.0 1996.8 1271.7 1998.6 1267.7C2000.0 1264.7 2001.3 1262.1 2002.7 1262.1C2004.3 1262.1 2006.0 1265.4 2007.6 1270.4C2008.7 1273.9 2009.9 1296.1 2011.0 1309.1C2012.4 1325.1 2013.8 1342.4 2015.2 1357.5C2016.6 1372.2 2017.9 1388.9 2019.3 1399.0C2021.2 1412.8 2023.0 1425.1 2024.9 1430.8C2027.7 1439.2 2030.4 1443.7 2033.2 1447.4C2036.0 1451.1 2038.7 1453.8 2041.5 1455.7C2043.6 1457.1 2045.7 1459.0 2047.8 1459.0C2049.4 1459.0 2050.9 1454.9 2052.5 1452.9C2053.7 1451.4 2054.8 1448.4 2056.0 1448.4C2057.1 1448.4 2058.3 1452.4 2059.4 1455.7C2060.3 1458.4 2061.3 1466.9 2062.2 1468.2C2064.1 1470.9 2066.1 1472.5 2068.0 1472.5C2070.8 1472.5 2073.7 1470.6 2076.5 1469.0C2081.2 1466.4 2085.8 1454.8 2090.5 1454.8C2093.4 1454.8 2096.2 1459.7 2099.1 1459.7C2103.6 1459.7 2108.2 1452.3 2112.7 1452.3C2117.2 1452.3 2121.7 1456.8 2126.2 1457.9C2132.4 1459.4 2138.5 1459.1 2144.7 1461.0C2146.8 1461.6 2148.8 1463.4 2150.9 1465.3C2153.3 1467.6 2155.8 1476.4 2158.2 1476.4C2160.3 1476.4 2162.3 1470.2 2164.4 1470.2C2166.5 1470.2 2168.5 1474.3 2170.6 1474.5C2174.3 1474.9 2177.9 1474.7 2181.6 1475.1C2184.5 1475.4 2187.4 1478.8 2190.3 1478.8C2193.6 1478.8 2196.8 1477.7 2200.1 1476.4C2202.2 1475.6 2204.2 1470.8 2206.3 1470.8C2209.6 1470.8 2212.8 1470.8 2216.1 1470.8C2218.2 1470.8 2220.2 1465.3 2222.3 1465.3C2225.2 1465.3 2228.0 1470.2 2230.9 1470.2C2233.8 1470.2 2236.6 1464.3 2239.5 1461.6C2243.2 1458.1 2246.9 1451.7 2250.6 1451.7C2253.1 1451.7 2255.5 1454.3 2258.0 1456.7C2261.3 1459.8 2264.6 1470.6 2267.9 1473.9C2269.5 1475.5 2271.2 1477.6 2272.8 1477.6C2275.3 1477.6 2277.7 1472.9 2280.2 1470.2C2283.5 1466.6 2286.7 1463.0 2290.0 1457.9C2292.3 1454.3 2294.7 1448.6 2297.0 1444.0" stroke="#0000ff"/>
</g>
<line x1="1732.4" y1="209" x2="1732.4" y2="1588" stroke="#fff" stroke-width="2.8"/>
<line x1="1732.4" y1="209" x2="1732.4" y2="1588" stroke="#000" stroke-width="3.3" stroke-dasharray="11.5 6"/>
<line x1="1767.9" y1="135" x2="1767.9" y2="1588" stroke="#fff" stroke-width="2.8"/>
<line x1="1767.9" y1="135" x2="1767.9" y2="1588" stroke="#000" stroke-width="3.3" stroke-dasharray="11.5 6"/>
<line x1="1813.2" y1="152.5" x2="1813.2" y2="1588" stroke="#fff" stroke-width="2.8"/>
<line x1="1813.2" y1="152.5" x2="1813.2" y2="1588" stroke="#000" stroke-width="3.3" stroke-dasharray="11.5 6"/>
<rect x="208" y="49.5" width="2086.5" height="1538.5" fill="none" stroke="#000" stroke-width="5.5"/>
<line x1="208.0" y1="1588" x2="208.0" y2="1620" stroke="#000" stroke-width="5.5"/>
<text transform="translate(206.5 1698.0) scale(1 1.04)" font-family="'Liberation Sans', Arial, Helvetica, sans-serif" font-weight="bold" font-size="73.5" fill="#000" text-anchor="middle">4000</text>
<line x1="534.0" y1="1588" x2="534.0" y2="1620" stroke="#000" stroke-width="5.5"/>
<text transform="translate(532.5 1698.0) scale(1 1.04)" font-family="'Liberation Sans', Arial, Helvetica, sans-serif" font-weight="bold" font-size="73.5" fill="#000" text-anchor="middle">3500</text>
<line x1="860.0" y1="1588" x2="860.0" y2="1620" stroke="#000" stroke-width="5.5"/>
<text transform="translate(858.5 1698.0) scale(1 1.04)" font-family="'Liberation Sans', Arial, Helvetica, sans-serif" font-weight="bold" font-size="73.5" fill="#000" text-anchor="middle">3000</text>
<line x1="1186.0" y1="1588" x2="1186.0" y2="1620" stroke="#000" stroke-width="5.5"/>
<text transform="translate(1184.5 1698.0) scale(1 1.04)" font-family="'Liberation Sans', Arial, Helvetica, sans-serif" font-weight="bold" font-size="73.5" fill="#000" text-anchor="middle">2500</text>
<line x1="1512.1" y1="1588" x2="1512.1" y2="1620" stroke="#000" stroke-width="5.5"/>
<text transform="translate(1510.6 1698.0) scale(1 1.04)" font-family="'Liberation Sans', Arial, Helvetica, sans-serif" font-weight="bold" font-size="73.5" fill="#000" text-anchor="middle">2000</text>
<line x1="1838.1" y1="1588" x2="1838.1" y2="1620" stroke="#000" stroke-width="5.5"/>
<text transform="translate(1836.6 1698.0) scale(1 1.04)" font-family="'Liberation Sans', Arial, Helvetica, sans-serif" font-weight="bold" font-size="73.5" fill="#000" text-anchor="middle">1500</text>
<line x1="2164.1" y1="1588" x2="2164.1" y2="1620" stroke="#000" stroke-width="5.5"/>
<text transform="translate(2162.6 1698.0) scale(1 1.04)" font-family="'Liberation Sans', Arial, Helvetica, sans-serif" font-weight="bold" font-size="73.5" fill="#000" text-anchor="middle">1000</text>
<text transform="scale(1 1.04)" font-family="'Liberation Sans', Arial, Helvetica, sans-serif" font-weight="bold" fill="#000"><tspan x="848.3" y="1791.35" font-size="86.8">Wavenumber </tspan><tspan x="1416.5" y="1789.42" font-size="80">(</tspan><tspan x="1445.6" y="1790.87" font-size="86.8" letter-spacing="-3">cm</tspan><tspan x="1567.1" y="1748.65" font-size="52">&#8722;</tspan><tspan x="1597.5" y="1743.27" font-size="52">1</tspan><tspan x="1628.1" y="1789.42" font-size="80">)</tspan></text>
<text transform="translate(109.5 1240) rotate(-90) scale(1 1.04)" font-family="'Liberation Sans', Arial, Helvetica, sans-serif" font-weight="bold" font-size="89">Absorbance (a.u)</text>
<text transform="translate(226.7 542.0) scale(1 1.04)" font-family="'Liberation Sans', Arial, Helvetica, sans-serif" font-weight="bold" font-size="65" fill="#000">(a) TFNC</text>
<text transform="translate(226.7 870.8) scale(1 1.04)" font-family="'Liberation Sans', Arial, Helvetica, sans-serif" font-weight="bold" font-size="65.6" fill="#ff0000">(b) Hp-TFNC-120</text>
<text transform="translate(226.7 1185.8) scale(1 1.04)" font-family="'Liberation Sans', Arial, Helvetica, sans-serif" font-weight="bold" font-size="65.6" fill="#008000">(c) Hp-TFNC-140</text>
<text transform="translate(226.7 1555.8) scale(1 1.04)" font-family="'Liberation Sans', Arial, Helvetica, sans-serif" font-weight="bold" font-size="65.6" fill="#0000ff">(d) Hp-TFNC-160</text>
<text transform="translate(1662.5 122.5) scale(1 1.04)" font-family="'Liberation Sans', Arial, Helvetica, sans-serif" font-weight="bold" font-size="58" fill="#000">1610</text>
<text transform="translate(1805.3 143.0) scale(1 1.04)" font-family="'Liberation Sans', Arial, Helvetica, sans-serif" font-weight="bold" font-size="58" fill="#000">1541</text>
<text transform="translate(1608.5 198.3) scale(1 1.04)" font-family="'Liberation Sans', Arial, Helvetica, sans-serif" font-weight="bold" font-size="58" fill="#000">1661</text>
</svg>
</body></html>
